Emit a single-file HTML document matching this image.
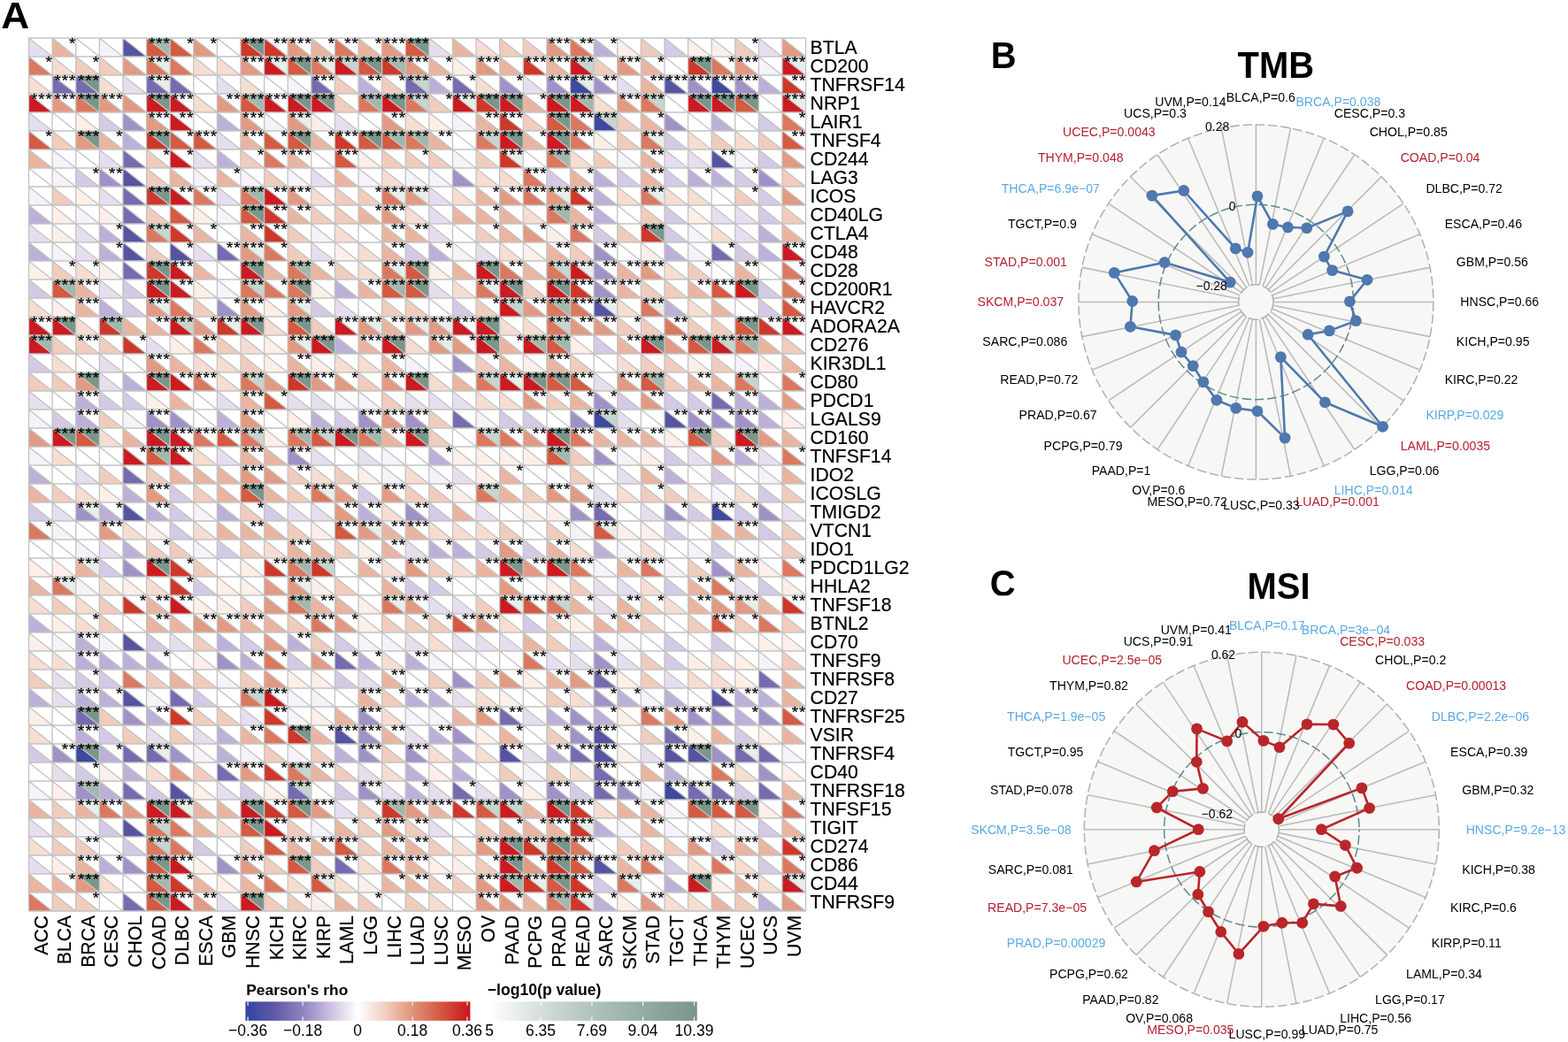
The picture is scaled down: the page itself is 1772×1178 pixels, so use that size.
<!DOCTYPE html>
<html lang="en"><head><meta charset="utf-8"><title>Figure</title>
<style>html,body{margin:0;padding:0;background:#fff}body{width:1772px;height:1178px;overflow:hidden}svg{display:block}text{white-space:pre}</style>
</head><body>
<svg width="1772" height="1178" viewBox="0 0 1772 1178" font-family='"Liberation Sans", sans-serif'>
<rect width="1772" height="1178" fill="#fff"/>
<g id="heat">
<path fill="#e6deee" d="M32.5 43V64H59.11ZM484.85 43V64H511.46ZM857.38 43V64H883.99ZM138.94 85V106H165.55ZM245.37 85V106H271.98ZM591.29 85V106H617.9ZM697.73 85V106H724.34ZM32.5 127V148H59.11ZM378.42 127V148H405.03ZM245.37 148V169H271.98ZM112.33 169V190H138.94ZM218.76 169V190H245.37ZM750.95 169V190H777.55ZM777.55 169V190H804.16ZM351.81 190V211H378.42ZM112.33 211V232H138.94ZM245.37 211V232H271.98ZM484.85 211V232H511.46ZM484.85 232V253H511.46ZM804.16 232V253H830.77ZM830.77 232V253H857.38ZM32.5 253V274H59.11ZM85.72 253V274H112.33ZM484.85 253V274H511.46ZM830.77 253V274H857.38ZM85.72 274V295H112.33ZM218.76 274V295H245.37ZM351.81 274V295H378.42ZM538.07 274V295H564.68ZM112.33 316V337H138.94ZM484.85 316V337H511.46ZM378.42 337V358H405.03ZM165.55 379V400H192.15ZM112.33 400V421H138.94ZM112.33 421V442H138.94ZM671.12 421V442H697.73ZM32.5 442V463H59.11ZM245.37 442V463H271.98ZM325.2 442V463H351.81ZM351.81 442V463H378.42ZM458.25 442V463H484.85ZM484.85 442V463H511.46ZM511.46 442V463H538.07ZM697.73 463V484H724.34ZM245.37 505V526H271.98ZM351.81 505V526H378.42ZM405.03 505V526H431.64ZM777.55 505V526H804.16ZM857.38 505V526H883.99ZM85.72 526V547H112.33ZM511.46 526V547H538.07ZM697.73 526V547H724.34ZM671.12 547V568H697.73ZM59.11 568V589H85.72ZM325.2 568V589H351.81ZM351.81 568V589H378.42ZM538.07 568V589H564.68ZM724.34 568V589H750.95ZM883.99 568V589H910.6ZM112.33 610V631H138.94ZM458.25 610V631H484.85ZM671.12 652V673H697.73ZM697.73 652V673H724.34ZM830.77 652V673H857.38ZM484.85 673V694H511.46ZM511.46 673V694H538.07ZM671.12 673V694H697.73ZM192.15 715V736H218.76ZM458.25 715V736H484.85ZM511.46 715V736H538.07ZM538.07 715V736H564.68ZM564.68 715V736H591.29ZM644.51 715V736H671.12ZM617.9 736V757H644.51ZM644.51 736V757H671.12ZM697.73 736V757H724.34ZM59.11 757V778H85.72ZM405.03 757V778H431.64ZM750.95 757V778H777.55ZM59.11 778V799H85.72ZM511.46 778V799H538.07ZM271.98 799V820H298.59ZM591.29 799V820H617.9ZM165.55 820V841H192.15ZM218.76 820V841H245.37ZM458.25 820V841H484.85ZM591.29 841V862H617.9ZM724.34 841V862H750.95ZM59.11 862V883H85.72ZM405.03 862V883H431.64ZM245.37 883V904H271.98ZM431.64 883V904H458.25ZM484.85 883V904H511.46ZM538.07 883V904H564.68ZM378.42 904V925H405.03ZM32.5 925V946H59.11ZM484.85 925V946H511.46ZM32.5 967V988H59.11ZM245.37 1009V1030H271.98Z"/>
<path fill="#e9b5a1" d="M59.11 43V64H85.72ZM351.81 43V64H378.42ZM405.03 43V64H431.64ZM511.46 43V64H538.07ZM484.85 64V85H511.46ZM564.68 64V85H591.29ZM617.9 64V85H644.51ZM724.34 64V85H750.95ZM724.34 85V106H750.95ZM591.29 106V127H617.9ZM538.07 127V148H564.68ZM724.34 127V148H750.95ZM112.33 148V169H138.94ZM271.98 148V169H298.59ZM351.81 148V169H378.42ZM484.85 148V169H511.46ZM591.29 148V169H617.9ZM32.5 169V190H59.11ZM325.2 169V190H351.81ZM724.34 169V190H750.95ZM192.15 190V211H218.76ZM245.37 190V211H271.98ZM378.42 190V211H405.03ZM644.51 190V211H671.12ZM724.34 190V211H750.95ZM538.07 211V232H564.68ZM325.2 232V253H351.81ZM405.03 232V253H431.64ZM511.46 232V253H538.07ZM538.07 232V253H564.68ZM564.68 232V253H591.29ZM644.51 232V253H671.12ZM218.76 253V274H245.37ZM271.98 253V274H298.59ZM431.64 253V274H458.25ZM458.25 253V274H484.85ZM564.68 253V274H591.29ZM883.99 253V274H910.6ZM431.64 274V295H458.25ZM617.9 274V295H644.51ZM218.76 295V316H245.37ZM298.59 295V316H325.2ZM351.81 295V316H378.42ZM511.46 295V316H538.07ZM591.29 295V316H617.9ZM697.73 295V316H724.34ZM830.77 295V316H857.38ZM85.72 316V337H112.33ZM405.03 316V337H431.64ZM697.73 316V337H724.34ZM777.55 316V337H804.16ZM85.72 337V358H112.33ZM804.16 337V358H830.77ZM138.94 358V379H165.55ZM165.55 358V379H192.15ZM431.64 358V379H458.25ZM405.03 379V400H431.64ZM564.68 379V400H591.29ZM697.73 379V400H724.34ZM857.38 379V400H883.99ZM192.15 400V421H218.76ZM325.2 400V421H351.81ZM431.64 400V421H458.25ZM564.68 400V421H591.29ZM617.9 400V421H644.51ZM883.99 400V421H910.6ZM511.46 421V442H538.07ZM777.55 421V442H804.16ZM804.16 421V442H830.77ZM192.15 442V463H218.76ZM271.98 442V463H298.59ZM644.51 442V463H671.12ZM138.94 484V505H165.55ZM431.64 484V505H458.25ZM671.12 484V505H697.73ZM697.73 484V505H724.34ZM724.34 484V505H750.95ZM883.99 484V505H910.6ZM271.98 505V526H298.59ZM298.59 505V526H325.2ZM192.15 526V547H218.76ZM218.76 526V547H245.37ZM245.37 526V547H271.98ZM564.68 526V547H591.29ZM724.34 526V547H750.95ZM883.99 526V547H910.6ZM32.5 547V568H59.11ZM245.37 547V568H271.98ZM298.59 547V568H325.2ZM564.68 547V568H591.29ZM511.46 568V589H538.07ZM245.37 589V610H271.98ZM271.98 589V610H298.59ZM298.59 589V610H325.2ZM431.64 589V610H458.25ZM458.25 589V610H484.85ZM804.16 589V610H830.77ZM830.77 589V610H857.38ZM325.2 610V631H351.81ZM351.81 610V631H378.42ZM431.64 610V631H458.25ZM617.9 610V631H644.51ZM85.72 631V652H112.33ZM405.03 631V652H431.64ZM538.07 631V652H564.68ZM697.73 631V652H724.34ZM830.77 631V652H857.38ZM32.5 652V673H59.11ZM431.64 652V673H458.25ZM777.55 652V673H804.16ZM165.55 673V694H192.15ZM351.81 673V694H378.42ZM378.42 673V694H405.03ZM644.51 673V694H671.12ZM697.73 673V694H724.34ZM777.55 673V694H804.16ZM857.38 673V694H883.99ZM165.55 694V715H192.15ZM192.15 694V715H218.76ZM271.98 694V715H298.59ZM298.59 694V715H325.2ZM671.12 694V715H697.73ZM697.73 694V715H724.34ZM591.29 715V736H617.9ZM192.15 757V778H218.76ZM431.64 757V778H458.25ZM617.9 757V778H644.51ZM883.99 757V778H910.6ZM405.03 778V799H431.64ZM883.99 778V799H910.6ZM378.42 799V820H405.03ZM511.46 799V820H538.07ZM271.98 820V841H298.59ZM351.81 820V841H378.42ZM431.64 820V841H458.25ZM564.68 820V841H591.29ZM804.16 820V841H830.77ZM883.99 820V841H910.6ZM351.81 862V883H378.42ZM724.34 862V883H750.95ZM883.99 883V904H910.6ZM32.5 904V925H59.11ZM85.72 904V925H112.33ZM218.76 904V925H245.37ZM245.37 904V925H271.98ZM484.85 904V925H511.46ZM591.29 904V925H617.9ZM697.73 904V925H724.34ZM724.34 904V925H750.95ZM218.76 925V946H245.37ZM378.42 925V946H405.03ZM564.68 925V946H591.29ZM591.29 925V946H617.9ZM617.9 925V946H644.51ZM724.34 925V946H750.95ZM883.99 925V946H910.6ZM325.2 946V967H351.81ZM351.81 946V967H378.42ZM431.64 946V967H458.25ZM458.25 946V967H484.85ZM830.77 946V967H857.38ZM857.38 946V967H883.99ZM85.72 967V988H112.33ZM458.25 967V988H484.85ZM697.73 967V988H724.34ZM32.5 988V1009H59.11ZM59.11 988V1009H85.72ZM218.76 988V1009H245.37ZM271.98 988V1009H298.59ZM431.64 988V1009H458.25ZM458.25 988V1009H484.85ZM830.77 988V1009H857.38ZM378.42 1009V1030H405.03ZM591.29 1009V1030H617.9ZM804.16 1009V1030H830.77Z"/>
<path fill="#f5f2f9" d="M112.33 43V64H138.94ZM857.38 64V85H883.99ZM325.2 85V106H351.81ZM298.59 127V148H325.2ZM511.46 127V148H538.07ZM59.11 169V190H85.72ZM511.46 169V190H538.07ZM697.73 169V190H724.34ZM830.77 169V190H857.38ZM59.11 190V211H85.72ZM218.76 190V211H245.37ZM271.98 190V211H298.59ZM325.2 190V211H351.81ZM405.03 190V211H431.64ZM458.25 190V211H484.85ZM484.85 190V211H511.46ZM32.5 211V232H59.11ZM85.72 232V253H112.33ZM245.37 232V253H271.98ZM351.81 253V274H378.42ZM777.55 253V274H804.16ZM59.11 274V295H85.72ZM511.46 274V295H538.07ZM777.55 274V295H804.16ZM245.37 316V337H271.98ZM458.25 400V421H484.85ZM830.77 400V421H857.38ZM378.42 442V463H405.03ZM405.03 442V463H431.64ZM32.5 463V484H59.11ZM138.94 463V484H165.55ZM538.07 463V484H564.68ZM32.5 505V526H59.11ZM431.64 505V526H458.25ZM697.73 505V526H724.34ZM431.64 526V547H458.25ZM484.85 526V547H511.46ZM857.38 526V547H883.99ZM804.16 547V568H830.77ZM218.76 568V589H245.37ZM59.11 589V610H85.72ZM644.51 589V610H671.12ZM85.72 610V631H112.33ZM218.76 610V631H245.37ZM697.73 610V631H724.34ZM777.55 610V631H804.16ZM671.12 631V652H697.73ZM750.95 631V652H777.55ZM85.72 652V673H112.33ZM59.11 715V736H85.72ZM112.33 715V736H138.94ZM405.03 715V736H431.64ZM431.64 715V736H458.25ZM697.73 715V736H724.34ZM484.85 736V757H511.46ZM857.38 736V757H883.99ZM245.37 757V778H271.98ZM165.55 778V799H192.15ZM325.2 778V799H351.81ZM351.81 778V799H378.42ZM724.34 778V799H750.95ZM325.2 799V820H351.81ZM458.25 799V820H484.85ZM484.85 799V820H511.46ZM218.76 841V862H245.37ZM271.98 841V862H298.59ZM325.2 841V862H351.81ZM883.99 841V862H910.6ZM591.29 862V883H617.9ZM32.5 883V904H59.11ZM724.34 883V904H750.95ZM750.95 904V925H777.55ZM85.72 925V946H112.33ZM351.81 925V946H378.42ZM697.73 925V946H724.34ZM750.95 925V946H777.55ZM830.77 925V946H857.38Z"/>
<path fill="#5654a1" d="M138.94 43V64H165.55ZM750.95 85V106H777.55ZM804.16 169V190H830.77ZM138.94 190V211H165.55ZM138.94 253V274H165.55ZM138.94 274V295H165.55ZM192.15 274V295H218.76ZM671.12 337V358H697.73ZM750.95 463V484H777.55ZM138.94 568V589H165.55ZM138.94 715V736H165.55ZM138.94 778V799H165.55ZM804.16 778V799H830.77ZM378.42 820V841H405.03ZM671.12 820V841H697.73ZM564.68 841V862H591.29ZM671.12 841V862H697.73ZM750.95 841V862H777.55ZM777.55 841V862H804.16ZM192.15 883V904H218.76ZM138.94 925V946H165.55ZM671.12 967V988H697.73Z"/>
<path fill="#d45a42" d="M165.55 43V64H192.15ZM192.15 43V64H218.76ZM458.25 43V64H484.85ZM325.2 64V85H351.81ZM405.03 64V85H431.64ZM271.98 106V127H298.59ZM830.77 106V127H857.38ZM617.9 127V148H644.51ZM32.5 148V169H59.11ZM192.15 148V169H218.76ZM218.76 148V169H245.37ZM298.59 148V169H325.2ZM325.2 148V169H351.81ZM405.03 148V169H431.64ZM431.64 148V169H458.25ZM883.99 148V169H910.6ZM378.42 169V190H405.03ZM192.15 232V253H218.76ZM271.98 232V253H298.59ZM458.25 295V316H484.85ZM59.11 316V337H85.72ZM431.64 316V337H458.25ZM458.25 316V337H484.85ZM804.16 316V337H830.77ZM883.99 337V358H910.6ZM325.2 358V379H351.81ZM830.77 358V379H857.38ZM617.9 379V400H644.51ZM777.55 379V400H804.16ZM617.9 421V442H644.51ZM644.51 421V442H671.12ZM724.34 421V442H750.95ZM298.59 442V463H325.2ZM85.72 484V505H112.33ZM245.37 484V505H271.98ZM351.81 484V505H378.42ZM777.55 484V505H804.16ZM165.55 505V526H192.15ZM617.9 505V526H644.51ZM271.98 547V568H298.59ZM378.42 589V610H405.03ZM671.12 589V610H697.73ZM591.29 673V694H617.9ZM511.46 694V715H538.07ZM804.16 694V715H830.77ZM883.99 799V820H910.6ZM325.2 904V925H351.81ZM538.07 904V925H564.68ZM777.55 904V925H804.16ZM804.16 904V925H830.77ZM830.77 904V925H857.38ZM271.98 925V946H298.59ZM298.59 946V967H325.2ZM378.42 946V967H405.03ZM617.9 946V967H644.51ZM165.55 967V988H192.15ZM325.2 967V988H351.81ZM644.51 967V988H671.12ZM165.55 988V1009H192.15ZM351.81 988V1009H378.42ZM617.9 988V1009H644.51ZM165.55 1009V1030H192.15Z"/>
<path fill="#a3b8ad" d="M165.55 43H192.15V64ZM431.64 64H458.25V85ZM271.98 106H298.59V127ZM405.03 106H431.64V127ZM644.51 106H671.12V127ZM431.64 148H458.25V169ZM458.25 148H484.85V169ZM617.9 169H644.51V190ZM271.98 211H298.59V232ZM617.9 232H644.51V253ZM325.2 295H351.81V316ZM59.11 316H85.72V337ZM431.64 316H458.25V337ZM617.9 337H644.51V358ZM112.33 358H138.94V379ZM32.5 379H59.11V400ZM591.29 379H617.9V400ZM617.9 379H644.51V400ZM830.77 379H857.38V400ZM724.34 421H750.95V442ZM325.2 484H351.81V505ZM405.03 484H431.64V505ZM165.55 505H192.15V526ZM617.9 505H644.51V526ZM325.2 631H351.81V652ZM325.2 673H351.81V694ZM85.72 883H112.33V904ZM431.64 904H458.25V925ZM165.55 988H192.15V1009ZM564.68 988H591.29V1009ZM617.9 1009H644.51V1030Z"/>
<path fill="#e29a83" d="M218.76 43V64H245.37ZM325.2 43V64H351.81ZM431.64 43V64H458.25ZM617.9 43V64H644.51ZM883.99 43V64H910.6ZM138.94 64V85H165.55ZM271.98 64V85H298.59ZM458.25 64V85H484.85ZM538.07 64V85H564.68ZM697.73 64V85H724.34ZM830.77 64V85H857.38ZM59.11 106V127H85.72ZM112.33 106V127H138.94ZM138.94 106V127H165.55ZM245.37 106V127H271.98ZM697.73 106V127H724.34ZM165.55 127V148H192.15ZM271.98 127V148H298.59ZM325.2 127V148H351.81ZM431.64 127V148H458.25ZM85.72 148V169H112.33ZM883.99 169V190H910.6ZM325.2 211V232H351.81ZM458.25 211V232H484.85ZM564.68 211V232H591.29ZM617.9 211V232H644.51ZM883.99 211V232H910.6ZM431.64 232V253H458.25ZM591.29 253V274H617.9ZM271.98 274V295H298.59ZM724.34 295V316H750.95ZM165.55 337V358H192.15ZM271.98 337V358H298.59ZM325.2 337V358H351.81ZM591.29 337V358H617.9ZM218.76 358V379H245.37ZM405.03 358V379H431.64ZM458.25 358V379H484.85ZM484.85 358V379H511.46ZM644.51 358V379H671.12ZM671.12 358V379H697.73ZM325.2 379V400H351.81ZM484.85 379V400H511.46ZM511.46 379V400H538.07ZM750.95 379V400H777.55ZM165.55 400V421H192.15ZM85.72 421V442H112.33ZM298.59 421V442H325.2ZM351.81 421V442H378.42ZM378.42 421V442H405.03ZM431.64 421V442H458.25ZM697.73 421V442H724.34ZM591.29 442V463H617.9ZM724.34 442V463H750.95ZM883.99 442V463H910.6ZM271.98 463V484H298.59ZM431.64 463V484H458.25ZM32.5 484V505H59.11ZM591.29 484V505H617.9ZM857.38 484V505H883.99ZM804.16 505V526H830.77ZM271.98 526V547H298.59ZM298.59 526V547H325.2ZM165.55 547V568H192.15ZM378.42 547V568H405.03ZM431.64 547V568H458.25ZM617.9 547V568H644.51ZM644.51 547V568H671.12ZM378.42 568V589H405.03ZM112.33 589V610H138.94ZM405.03 589V610H431.64ZM564.68 610V631H591.29ZM458.25 631V652H484.85ZM591.29 631V652H617.9ZM298.59 652V673H325.2ZM325.2 652V673H351.81ZM564.68 652V673H591.29ZM298.59 673V694H325.2ZM458.25 673V694H484.85ZM804.16 673V694H830.77ZM830.77 673V694H857.38ZM218.76 694V715H245.37ZM245.37 694V715H271.98ZM378.42 694V715H405.03ZM538.07 694V715H564.68ZM298.59 715V736H325.2ZM351.81 736V757H378.42ZM298.59 757V778H325.2ZM564.68 757V778H591.29ZM644.51 757V778H671.12ZM538.07 799V820H564.68ZM750.95 799V820H777.55ZM192.15 862V883H218.76ZM271.98 862V883H298.59ZM138.94 904V925H165.55ZM351.81 904V925H378.42ZM458.25 904V925H484.85ZM431.64 925V946H458.25ZM538.07 946V967H564.68ZM777.55 946V967H804.16ZM271.98 967V988H298.59ZM591.29 967V988H617.9ZM85.72 988V1009H112.33ZM538.07 988V1009H564.68ZM218.76 1009V1030H245.37ZM538.07 1009V1030H564.68ZM564.68 1009V1030H591.29ZM724.34 1009V1030H750.95ZM883.99 1009V1030H910.6Z"/>
<path fill="#ce382b" d="M271.98 43V64H298.59ZM298.59 43V64H325.2ZM431.64 64V85H458.25ZM591.29 64V85H617.9ZM777.55 64V85H804.16ZM883.99 85V106H910.6ZM538.07 106V127H564.68ZM564.68 127V148H591.29ZM165.55 148V169H192.15ZM378.42 148V169H405.03ZM564.68 169V190H591.29ZM165.55 211V232H192.15ZM644.51 211V232H671.12ZM298.59 232V253H325.2ZM192.15 253V274H218.76ZM298.59 253V274H325.2ZM724.34 253V274H750.95ZM165.55 295V316H192.15ZM644.51 316V337H671.12ZM112.33 358V379H138.94ZM245.37 358V379H271.98ZM857.38 358V379H883.99ZM138.94 379V400H165.55ZM325.2 421V442H351.81ZM192.15 631V652H218.76ZM298.59 631V652H325.2ZM351.81 631V652H378.42ZM192.15 652V673H218.76ZM138.94 673V694H165.55ZM883.99 673V694H910.6ZM192.15 799V820H218.76ZM298.59 799V820H325.2ZM325.2 820V841H351.81ZM298.59 862V883H325.2ZM298.59 904V925H325.2ZM431.64 904V925H458.25ZM511.46 904V925H538.07ZM644.51 904V925H671.12ZM644.51 925V946H671.12ZM591.29 946V967H617.9ZM883.99 946V967H910.6ZM617.9 967V988H644.51ZM192.15 988V1009H218.76ZM591.29 988V1009H617.9ZM644.51 988V1009H671.12ZM644.51 1009V1030H671.12Z"/>
<path fill="#7a968a" d="M271.98 43H298.59V64ZM458.25 43H484.85V64ZM325.2 64H351.81V85ZM405.03 64H431.64V85ZM777.55 64H804.16V85ZM85.72 85H112.33V106ZM85.72 106H112.33V127ZM165.55 106H192.15V127ZM325.2 106H351.81V127ZM351.81 106H378.42V127ZM431.64 106H458.25V127ZM538.07 106H564.68V127ZM564.68 106H591.29V127ZM617.9 106H644.51V127ZM777.55 106H804.16V127ZM804.16 106H830.77V127ZM830.77 106H857.38V127ZM617.9 127H644.51V148ZM85.72 148H112.33V169ZM165.55 148H192.15V169ZM325.2 148H351.81V169ZM405.03 148H431.64V169ZM564.68 148H591.29V169ZM617.9 148H644.51V169ZM165.55 211H192.15V232ZM271.98 232H298.59V253ZM724.34 253H750.95V274ZM165.55 295H192.15V316ZM271.98 295H298.59V316ZM458.25 295H484.85V316ZM538.07 295H564.68V316ZM165.55 316H192.15V337ZM325.2 316H351.81V337ZM458.25 316H484.85V337ZM564.68 316H591.29V337ZM617.9 316H644.51V337ZM830.77 316H857.38V337ZM59.11 358H85.72V379ZM271.98 358H298.59V379ZM325.2 358H351.81V379ZM538.07 358H564.68V379ZM830.77 358H857.38V379ZM351.81 379H378.42V400ZM431.64 379H458.25V400ZM538.07 379H564.68V400ZM724.34 379H750.95V400ZM777.55 379H804.16V400ZM85.72 421H112.33V442ZM165.55 421H192.15V442ZM325.2 421H351.81V442ZM458.25 421H484.85V442ZM591.29 421H617.9V442ZM617.9 421H644.51V442ZM59.11 484H85.72V505ZM85.72 484H112.33V505ZM165.55 484H192.15V505ZM378.42 484H405.03V505ZM458.25 484H484.85V505ZM617.9 484H644.51V505ZM777.55 484H804.16V505ZM830.77 484H857.38V505ZM271.98 547H298.59V568ZM165.55 631H192.15V652ZM564.68 631H591.29V652ZM617.9 631H644.51V652ZM85.72 799H112.33V820ZM325.2 820H351.81V841ZM85.72 841H112.33V862ZM777.55 841H804.16V862ZM165.55 904H192.15V925ZM271.98 904H298.59V925ZM325.2 904H351.81V925ZM617.9 904H644.51V925ZM777.55 904H804.16V925ZM830.77 904H857.38V925ZM271.98 925H298.59V946ZM564.68 946H591.29V967ZM617.9 946H644.51V967ZM165.55 967H192.15V988ZM325.2 967H351.81V988ZM564.68 967H591.29V988ZM617.9 967H644.51V988ZM85.72 988H112.33V1009ZM617.9 988H644.51V1009ZM777.55 988H804.16V1009ZM165.55 1009H192.15V1030ZM271.98 1009H298.59V1030Z"/>
<path fill="#db7960" d="M378.42 43V64H405.03ZM644.51 43V64H671.12ZM32.5 64V85H59.11ZM165.55 64V85H192.15ZM192.15 64V85H218.76ZM351.81 64V85H378.42ZM804.16 64V85H830.77ZM85.72 106V127H112.33ZM405.03 106V127H431.64ZM458.25 106V127H484.85ZM724.34 106V127H750.95ZM644.51 127V148H671.12ZM883.99 127V148H910.6ZM458.25 148V169H484.85ZM538.07 148V169H564.68ZM644.51 148V169H671.12ZM724.34 148V169H750.95ZM298.59 169V190H325.2ZM617.9 169V190H644.51ZM591.29 190V211H617.9ZM218.76 211V232H245.37ZM271.98 211V232H298.59ZM431.64 211V232H458.25ZM591.29 211V232H617.9ZM724.34 211V232H750.95ZM617.9 232V253H644.51ZM165.55 253V274H192.15ZM644.51 253V274H671.12ZM298.59 274V295H325.2ZM325.2 295V316H351.81ZM431.64 295V316H458.25ZM564.68 295V316H591.29ZM617.9 295V316H644.51ZM883.99 295V316H910.6ZM271.98 316V337H298.59ZM298.59 316V337H325.2ZM325.2 316V337H351.81ZM538.07 316V337H564.68ZM883.99 316V337H910.6ZM192.15 337V358H218.76ZM617.9 337V358H644.51ZM644.51 337V358H671.12ZM724.34 337V358H750.95ZM617.9 358V379H644.51ZM750.95 358V379H777.55ZM218.76 379V400H245.37ZM830.77 379V400H857.38ZM218.76 421V442H245.37ZM271.98 421V442H298.59ZM538.07 421V442H564.68ZM830.77 421V442H857.38ZM883.99 421V442H910.6ZM218.76 484V505H245.37ZM271.98 484V505H298.59ZM325.2 484V505H351.81ZM405.03 484V505H431.64ZM538.07 484V505H564.68ZM564.68 484V505H591.29ZM644.51 484V505H671.12ZM883.99 505V526H910.6ZM351.81 547V568H378.42ZM538.07 547V568H564.68ZM32.5 589V610H59.11ZM325.2 631V652H351.81ZM644.51 631V652H671.12ZM724.34 631V652H750.95ZM883.99 631V652H910.6ZM59.11 652V673H85.72ZM804.16 652V673H830.77ZM325.2 673V694H351.81ZM431.64 673V694H458.25ZM617.9 673V694H644.51ZM351.81 694V715H378.42ZM857.38 694V715H883.99ZM298.59 736V757H325.2ZM591.29 736V757H617.9ZM138.94 757V778H165.55ZM271.98 778V799H298.59ZM724.34 799V820H750.95ZM298.59 820V841H325.2ZM325.2 862V883H351.81ZM804.16 862V883H830.77ZM112.33 904V925H138.94ZM883.99 904V925H910.6ZM165.55 925V946H192.15ZM192.15 925V946H218.76ZM165.55 946V967H192.15ZM192.15 946V967H218.76ZM644.51 946V967H671.12ZM431.64 967V988H458.25ZM724.34 967V988H750.95ZM804.16 967V988H830.77ZM883.99 967V988H910.6ZM298.59 988V1009H325.2ZM697.73 988V1009H724.34ZM32.5 1009V1030H59.11ZM617.9 1009V1030H644.51Z"/>
<path fill="#f6ddd1" d="M538.07 43V64H564.68ZM59.11 64V85H85.72ZM218.76 64V85H245.37ZM245.37 64V85H271.98ZM32.5 85V106H59.11ZM112.33 85V106H138.94ZM271.98 85V106H298.59ZM538.07 85V106H564.68ZM218.76 106V127H245.37ZM671.12 106V127H697.73ZM458.25 127V148H484.85ZM777.55 148V169H804.16ZM830.77 148V169H857.38ZM644.51 169V190H671.12ZM431.64 190V211H458.25ZM538.07 190V211H564.68ZM564.68 190V211H591.29ZM351.81 211V232H378.42ZM511.46 211V232H538.07ZM697.73 211V232H724.34ZM750.95 211V232H777.55ZM777.55 211V232H804.16ZM458.25 232V253H484.85ZM591.29 232V253H617.9ZM378.42 253V274H405.03ZM804.16 253V274H830.77ZM405.03 274V295H431.64ZM564.68 274V295H591.29ZM85.72 295V316H112.33ZM405.03 295V316H431.64ZM750.95 295V316H777.55ZM511.46 316V337H538.07ZM32.5 337V358H59.11ZM697.73 337V358H724.34ZM777.55 337V358H804.16ZM85.72 358V379H112.33ZM298.59 358V379H325.2ZM564.68 358V379H591.29ZM591.29 358V379H617.9ZM271.98 379V400H298.59ZM458.25 379V400H484.85ZM59.11 400V421H85.72ZM218.76 400V421H245.37ZM245.37 400V421H271.98ZM378.42 400V421H405.03ZM405.03 400V421H431.64ZM697.73 400V421H724.34ZM245.37 421V442H271.98ZM484.85 421V442H511.46ZM538.07 442V463H564.68ZM564.68 442V463H591.29ZM112.33 484V505H138.94ZM59.11 505V526H85.72ZM218.76 505V526H245.37ZM351.81 526V547H378.42ZM458.25 526V547H484.85ZM85.72 547V568H112.33ZM697.73 547V568H724.34ZM777.55 547V568H804.16ZM830.77 547V568H857.38ZM431.64 568V589H458.25ZM138.94 589V610H165.55ZM218.76 589V610H245.37ZM484.85 589V610H511.46ZM511.46 589V610H538.07ZM538.07 589V610H564.68ZM298.59 610V631H325.2ZM644.51 610V631H671.12ZM724.34 610V631H750.95ZM431.64 631V652H458.25ZM511.46 631V652H538.07ZM112.33 652V673H138.94ZM165.55 652V673H192.15ZM724.34 652V673H750.95ZM32.5 673V694H59.11ZM85.72 673V694H112.33ZM750.95 673V694H777.55ZM85.72 694V715H112.33ZM564.68 694V715H591.29ZM484.85 715V736H511.46ZM32.5 736V757H59.11ZM59.11 736V757H85.72ZM431.64 736V757H458.25ZM804.16 736V757H830.77ZM777.55 757V778H804.16ZM804.16 757V778H830.77ZM538.07 778V799H564.68ZM644.51 778V799H671.12ZM431.64 799V820H458.25ZM32.5 820V841H59.11ZM484.85 841V862H511.46ZM538.07 841V862H564.68ZM165.55 862V883H192.15ZM431.64 862V883H458.25ZM644.51 862V883H671.12ZM830.77 862V883H857.38ZM671.12 904V925H697.73ZM245.37 925V946H271.98ZM804.16 925V946H830.77ZM32.5 946V967H59.11ZM511.46 946V967H538.07ZM405.03 967V988H431.64ZM777.55 967V988H804.16ZM830.77 967V988H857.38ZM112.33 988V1009H138.94ZM325.2 988V1009H351.81ZM378.42 988V1009H405.03ZM857.38 988V1009H883.99ZM484.85 1009V1030H511.46ZM750.95 1009V1030H777.55ZM777.55 1009V1030H804.16Z"/>
<path fill="#f0ccbd" d="M564.68 43V64H591.29ZM591.29 43V64H617.9ZM724.34 43V64H750.95ZM830.77 43V64H857.38ZM85.72 64V85H112.33ZM112.33 64V85H138.94ZM671.12 64V85H697.73ZM378.42 85V106H405.03ZM431.64 85V106H458.25ZM378.42 106V127H405.03ZM484.85 106V127H511.46ZM591.29 127V148H617.9ZM697.73 127V148H724.34ZM59.11 148V169H85.72ZM697.73 148V169H724.34ZM804.16 148V169H830.77ZM857.38 148V169H883.99ZM165.55 169V190H192.15ZM271.98 169V190H298.59ZM431.64 169V190H458.25ZM458.25 169V190H484.85ZM484.85 169V190H511.46ZM538.07 169V190H564.68ZM671.12 169V190H697.73ZM165.55 190V211H192.15ZM298.59 190V211H325.2ZM883.99 190V211H910.6ZM59.11 211V232H85.72ZM378.42 211V232H405.03ZM405.03 211V232H431.64ZM830.77 211V232H857.38ZM165.55 232V253H192.15ZM351.81 232V253H378.42ZM378.42 232V253H405.03ZM724.34 232V253H750.95ZM883.99 232V253H910.6ZM325.2 253V274H351.81ZM538.07 253V274H564.68ZM697.73 253V274H724.34ZM165.55 274V295H192.15ZM325.2 274V295H351.81ZM644.51 274V295H671.12ZM59.11 295V316H85.72ZM378.42 295V316H405.03ZM777.55 295V316H804.16ZM591.29 316V337H617.9ZM724.34 316V337H750.95ZM750.95 316V337H777.55ZM218.76 337V358H245.37ZM431.64 337V358H458.25ZM458.25 337V358H484.85ZM538.07 337V358H564.68ZM351.81 358V379H378.42ZM697.73 358V379H724.34ZM724.34 358V379H750.95ZM777.55 358V379H804.16ZM804.16 358V379H830.77ZM59.11 379V400H85.72ZM85.72 379V400H112.33ZM112.33 379V400H138.94ZM245.37 379V400H271.98ZM883.99 379V400H910.6ZM271.98 400V421H298.59ZM538.07 400V421H564.68ZM644.51 400V421H671.12ZM724.34 400V421H750.95ZM750.95 400V421H777.55ZM804.16 400V421H830.77ZM32.5 421V442H59.11ZM59.11 421V442H85.72ZM405.03 421V442H431.64ZM750.95 421V442H777.55ZM431.64 442V463H458.25ZM617.9 442V463H644.51ZM112.33 463V484H138.94ZM484.85 463V484H511.46ZM484.85 484V505H511.46ZM804.16 484V505H830.77ZM644.51 505V526H671.12ZM112.33 526V547H138.94ZM165.55 526V547H192.15ZM325.2 526V547H351.81ZM378.42 526V547H405.03ZM644.51 526V547H671.12ZM59.11 547V568H85.72ZM218.76 547V568H245.37ZM325.2 547V568H351.81ZM458.25 547V568H484.85ZM484.85 547V568H511.46ZM591.29 547V568H617.9ZM724.34 547V568H750.95ZM750.95 547V568H777.55ZM883.99 547V568H910.6ZM271.98 568V589H298.59ZM325.2 589V610H351.81ZM564.68 589V610H591.29ZM617.9 589V610H644.51ZM883.99 589V610H910.6ZM165.55 610V631H192.15ZM192.15 610V631H218.76ZM271.98 610V631H298.59ZM378.42 610V631H405.03ZM883.99 610V631H910.6ZM218.76 631V652H245.37ZM484.85 631V652H511.46ZM777.55 631V652H804.16ZM378.42 652V673H405.03ZM644.51 652V673H671.12ZM59.11 673V694H85.72ZM112.33 673V694H138.94ZM271.98 673V694H298.59ZM538.07 673V694H564.68ZM724.34 673V694H750.95ZM112.33 694V715H138.94ZM325.2 694V715H351.81ZM431.64 694V715H458.25ZM458.25 694V715H484.85ZM484.85 694V715H511.46ZM617.9 694V715H644.51ZM724.34 694V715H750.95ZM777.55 694V715H804.16ZM830.77 694V715H857.38ZM883.99 694V715H910.6ZM218.76 715V736H245.37ZM351.81 715V736H378.42ZM617.9 715V736H644.51ZM724.34 736V757H750.95ZM883.99 736V757H910.6ZM32.5 757V778H59.11ZM165.55 757V778H192.15ZM218.76 757V778H245.37ZM271.98 757V778H298.59ZM484.85 757V778H511.46ZM538.07 757V778H564.68ZM724.34 757V778H750.95ZM431.64 778V799H458.25ZM617.9 778V799H644.51ZM112.33 799V820H138.94ZM218.76 799V820H245.37ZM245.37 799V820H271.98ZM138.94 820V841H165.55ZM192.15 820V841H218.76ZM617.9 820V841H644.51ZM724.34 820V841H750.95ZM298.59 841V862H325.2ZM351.81 841V862H378.42ZM431.64 841V862H458.25ZM218.76 862V883H245.37ZM378.42 862V883H405.03ZM564.68 862V883H591.29ZM617.9 862V883H644.51ZM59.11 904V925H85.72ZM405.03 904V925H431.64ZM59.11 925V946H85.72ZM325.2 925V946H351.81ZM405.03 925V946H431.64ZM458.25 925V946H484.85ZM538.07 925V946H564.68ZM59.11 946V967H85.72ZM85.72 946V967H112.33ZM271.98 946V967H298.59ZM405.03 946V967H431.64ZM484.85 946V967H511.46ZM697.73 946V967H724.34ZM724.34 946V967H750.95ZM750.95 946V967H777.55ZM298.59 967V988H325.2ZM351.81 967V988H378.42ZM538.07 967V988H564.68ZM484.85 988V1009H511.46ZM511.46 988V1009H538.07ZM59.11 1009V1030H85.72ZM85.72 1009V1030H112.33ZM298.59 1009V1030H325.2ZM325.2 1009V1030H351.81ZM405.03 1009V1030H431.64ZM458.25 1009V1030H484.85ZM830.77 1009V1030H857.38Z"/>
<path fill="#bdb0d8" d="M671.12 43V64H697.73ZM405.03 85V106H431.64ZM484.85 85V106H511.46ZM857.38 85V106H883.99ZM245.37 127V148H271.98ZM804.16 127V148H830.77ZM138.94 148V169H165.55ZM245.37 169V190H271.98ZM671.12 190V211H697.73ZM777.55 190V211H804.16ZM804.16 190V211H830.77ZM671.12 211V232H697.73ZM32.5 232V253H59.11ZM671.12 232V253H697.73ZM112.33 253V274H138.94ZM857.38 253V274H883.99ZM32.5 274V295H59.11ZM112.33 274V295H138.94ZM484.85 274V295H511.46ZM750.95 274V295H777.55ZM857.38 274V295H883.99ZM378.42 316V337H405.03ZM112.33 337V358H138.94ZM750.95 337V358H777.55ZM378.42 379V400H405.03ZM138.94 421V442H165.55ZM85.72 442V463H112.33ZM830.77 442V463H857.38ZM857.38 442V463H883.99ZM85.72 463V484H112.33ZM245.37 463V484H271.98ZM351.81 463V484H378.42ZM857.38 463V484H883.99ZM484.85 505V526H511.46ZM830.77 505V526H857.38ZM32.5 526V547H59.11ZM750.95 526V547H777.55ZM138.94 547V568H165.55ZM112.33 568V589H138.94ZM165.55 568V589H192.15ZM245.37 568V589H271.98ZM405.03 568V589H431.64ZM138.94 610V631H165.55ZM484.85 610V631H511.46ZM511.46 610V631H538.07ZM671.12 610V631H697.73ZM32.5 694V715H59.11ZM85.72 715V736H112.33ZM245.37 715V736H271.98ZM325.2 715V736H351.81ZM671.12 715V736H697.73ZM85.72 736V757H112.33ZM112.33 736V757H138.94ZM138.94 736V757H165.55ZM165.55 736V757H192.15ZM271.98 736V757H298.59ZM405.03 736V757H431.64ZM458.25 736V757H484.85ZM32.5 778V799H59.11ZM85.72 778V799H112.33ZM112.33 778V799H138.94ZM458.25 778V799H484.85ZM484.85 778V799H511.46ZM697.73 778V799H724.34ZM750.95 778V799H777.55ZM830.77 778V799H857.38ZM857.38 778V799H883.99ZM165.55 799V820H192.15ZM617.9 799V820H644.51ZM671.12 799V820H697.73ZM830.77 799V820H857.38ZM85.72 820V841H112.33ZM245.37 820V841H271.98ZM484.85 820V841H511.46ZM112.33 841V862H138.94ZM245.37 841V862H271.98ZM378.42 841V862H405.03ZM511.46 841V862H538.07ZM617.9 841V862H644.51ZM138.94 862V883H165.55ZM458.25 862V883H484.85ZM511.46 862V883H538.07ZM750.95 862V883H777.55ZM112.33 883V904H138.94ZM458.25 883V904H484.85ZM671.12 925V946H697.73ZM112.33 967V988H138.94ZM750.95 988V1009H777.55ZM671.12 1009V1030H697.73ZM857.38 1009V1030H883.99Z"/>
<path fill="#fcefe8" d="M697.73 43V64H724.34ZM777.55 43V64H804.16ZM804.16 43V64H830.77ZM511.46 64V85H538.07ZM85.72 127V148H112.33ZM351.81 127V148H378.42ZM484.85 127V148H511.46ZM671.12 148V169H697.73ZM405.03 169V190H431.64ZM85.72 211V232H112.33ZM59.11 232V253H85.72ZM112.33 232V253H138.94ZM218.76 232V253H245.37ZM777.55 232V253H804.16ZM59.11 253V274H85.72ZM617.9 253V274H644.51ZM378.42 274V295H405.03ZM591.29 274V295H617.9ZM724.34 274V295H750.95ZM32.5 295V316H59.11ZM112.33 295V316H138.94ZM484.85 295V316H511.46ZM218.76 316V337H245.37ZM351.81 316V337H378.42ZM59.11 337V358H85.72ZM298.59 337V358H325.2ZM192.15 379V400H218.76ZM298.59 379V400H325.2ZM644.51 379V400H671.12ZM298.59 400V421H325.2ZM351.81 400V421H378.42ZM591.29 400V421H617.9ZM777.55 400V421H804.16ZM857.38 400V421H883.99ZM165.55 442V463H192.15ZM325.2 463V484H351.81ZM883.99 463V484H910.6ZM298.59 484V505H325.2ZM750.95 484V505H777.55ZM511.46 505V526H538.07ZM538.07 505V526H564.68ZM564.68 505V526H591.29ZM591.29 505V526H617.9ZM724.34 505V526H750.95ZM405.03 526V547H431.64ZM538.07 526V547H564.68ZM112.33 547V568H138.94ZM511.46 547V568H538.07ZM591.29 568V589H617.9ZM617.9 568V589H644.51ZM165.55 589V610H192.15ZM351.81 589V610H378.42ZM697.73 589V610H724.34ZM724.34 589V610H750.95ZM405.03 610V631H431.64ZM32.5 631V652H59.11ZM59.11 631V652H85.72ZM271.98 631V652H298.59ZM857.38 631V652H883.99ZM138.94 652V673H165.55ZM245.37 652V673H271.98ZM271.98 652V673H298.59ZM351.81 652V673H378.42ZM617.9 652V673H644.51ZM883.99 652V673H910.6ZM218.76 673V694H245.37ZM245.37 673V694H271.98ZM405.03 673V694H431.64ZM59.11 694V715H85.72ZM405.03 694V715H431.64ZM644.51 694V715H671.12ZM32.5 715V736H59.11ZM857.38 715V736H883.99ZM883.99 715V736H910.6ZM218.76 736V757H245.37ZM777.55 736V757H804.16ZM830.77 736V757H857.38ZM325.2 757V778H351.81ZM351.81 757V778H378.42ZM591.29 757V778H617.9ZM697.73 757V778H724.34ZM830.77 757V778H857.38ZM564.68 778V799H591.29ZM32.5 799V820H59.11ZM351.81 799V820H378.42ZM697.73 799V820H724.34ZM538.07 820V841H564.68ZM777.55 820V841H804.16ZM857.38 820V841H883.99ZM697.73 841V862H724.34ZM112.33 862V883H138.94ZM484.85 862V883H511.46ZM883.99 862V883H910.6ZM59.11 883V904H85.72ZM218.76 883V904H245.37ZM298.59 883V904H325.2ZM591.29 883V904H617.9ZM857.38 904V925H883.99ZM59.11 967V988H85.72ZM218.76 967V988H245.37ZM484.85 967V988H511.46ZM511.46 967V988H538.07ZM245.37 988V1009H271.98ZM405.03 988V1009H431.64ZM804.16 988V1009H830.77ZM351.81 1009V1030H378.42ZM697.73 1009V1030H724.34Z"/>
<path fill="#d4cae5" d="M750.95 43V64H777.55ZM112.33 127V148H138.94ZM857.38 127V148H883.99ZM750.95 148V169H777.55ZM857.38 169V190H883.99ZM85.72 190V211H112.33ZM617.9 190V211H644.51ZM697.73 190V211H724.34ZM750.95 190V211H777.55ZM830.77 190V211H857.38ZM857.38 211V232H883.99ZM750.95 232V253H777.55ZM857.38 232V253H883.99ZM671.12 253V274H697.73ZM750.95 253V274H777.55ZM458.25 274V295H484.85ZM830.77 274V295H857.38ZM32.5 316V337H59.11ZM138.94 316V337H165.55ZM857.38 316V337H883.99ZM138.94 337V358H165.55ZM351.81 337V358H378.42ZM511.46 337V358H538.07ZM857.38 337V358H883.99ZM671.12 379V400H697.73ZM32.5 400V421H59.11ZM112.33 442V463H138.94ZM138.94 442V463H165.55ZM697.73 442V463H724.34ZM750.95 442V463H777.55ZM777.55 442V463H804.16ZM59.11 463V484H85.72ZM378.42 463V484H405.03ZM564.68 463V484H591.29ZM591.29 463V484H617.9ZM750.95 505V526H777.55ZM804.16 526V547H830.77ZM192.15 547V568H218.76ZM405.03 547V568H431.64ZM857.38 547V568H883.99ZM32.5 568V589H59.11ZM192.15 568V589H218.76ZM298.59 568V589H325.2ZM484.85 568V589H511.46ZM777.55 568V589H804.16ZM830.77 568V589H857.38ZM192.15 589V610H218.76ZM750.95 589V610H777.55ZM857.38 589V610H883.99ZM245.37 610V631H271.98ZM538.07 610V631H564.68ZM591.29 610V631H617.9ZM804.16 610V631H830.77ZM112.33 631V652H138.94ZM218.76 652V673H245.37ZM458.25 652V673H484.85ZM484.85 652V673H511.46ZM750.95 652V673H777.55ZM857.38 652V673H883.99ZM591.29 694V715H617.9ZM165.55 715V736H192.15ZM271.98 715V736H298.59ZM378.42 715V736H405.03ZM750.95 715V736H777.55ZM804.16 715V736H830.77ZM325.2 736V757H351.81ZM750.95 736V757H777.55ZM85.72 757V778H112.33ZM112.33 757V778H138.94ZM378.42 757V778H405.03ZM218.76 778V799H245.37ZM112.33 820V841H138.94ZM830.77 820V841H857.38ZM32.5 841V862H59.11ZM85.72 862V883H112.33ZM165.55 883V904H192.15ZM271.98 883V904H298.59ZM378.42 883V904H405.03ZM644.51 883V904H671.12ZM830.77 883V904H857.38ZM112.33 925V946H138.94ZM857.38 925V946H883.99ZM138.94 946V967H165.55ZM218.76 946V967H245.37ZM804.16 946V967H830.77ZM750.95 967V988H777.55ZM857.38 967V988H883.99ZM671.12 988V1009H697.73Z"/>
<path fill="#e8eeea" d="M165.55 64H192.15V85ZM298.59 64H325.2V85ZM351.81 64H378.42V85ZM883.99 64H910.6V85ZM165.55 85H192.15V106ZM644.51 85H671.12V106ZM511.46 106H538.07V127ZM883.99 106H910.6V127ZM325.2 127H351.81V148ZM724.34 148H750.95V169ZM564.68 169H591.29V190ZM431.64 211H458.25V232ZM458.25 211H484.85V232ZM617.9 211H644.51V232ZM724.34 211H750.95V232ZM271.98 274H298.59V295ZM431.64 295H458.25V316ZM644.51 295H671.12V316ZM538.07 316H564.68V337ZM165.55 337H192.15V358ZM325.2 337H351.81V358ZM671.12 337H697.73V358ZM724.34 337H750.95V358ZM245.37 358H271.98V379ZM405.03 358H431.64V379ZM458.25 358H484.85V379ZM484.85 358H511.46V379ZM325.2 379H351.81V400ZM484.85 379H511.46V400ZM564.68 421H591.29V442ZM351.81 547H378.42V568ZM85.72 568H112.33V589ZM405.03 589H431.64V610ZM671.12 589H697.73V610ZM85.72 631H112.33V652ZM59.11 652H85.72V673ZM325.2 652H351.81V673ZM431.64 673H458.25V694ZM564.68 673H591.29V694ZM830.77 673H857.38V694ZM165.55 841H192.15V862ZM830.77 841H857.38V862ZM777.55 883H804.16V904ZM85.72 904H112.33V925ZM192.15 904H218.76V925ZM644.51 925H671.12V946ZM591.29 946H617.9V967ZM351.81 988H378.42V1009ZM591.29 988H617.9V1009ZM697.73 988H724.34V1009ZM883.99 988H910.6V1009ZM644.51 1009H671.12V1030Z"/>
<path fill="#cb1b21" d="M298.59 64V85H325.2ZM378.42 64V85H405.03ZM644.51 64V85H671.12ZM883.99 64V85H910.6ZM32.5 106V127H59.11ZM165.55 106V127H192.15ZM192.15 106V127H218.76ZM298.59 106V127H325.2ZM325.2 106V127H351.81ZM351.81 106V127H378.42ZM431.64 106V127H458.25ZM511.46 106V127H538.07ZM564.68 106V127H591.29ZM617.9 106V127H644.51ZM644.51 106V127H671.12ZM777.55 106V127H804.16ZM804.16 106V127H830.77ZM883.99 106V127H910.6ZM192.15 127V148H218.76ZM564.68 148V169H591.29ZM617.9 148V169H644.51ZM192.15 169V190H218.76ZM192.15 211V232H218.76ZM298.59 211V232H325.2ZM883.99 274V295H910.6ZM192.15 295V316H218.76ZM271.98 295V316H298.59ZM538.07 295V316H564.68ZM644.51 295V316H671.12ZM165.55 316V337H192.15ZM192.15 316V337H218.76ZM564.68 316V337H591.29ZM617.9 316V337H644.51ZM830.77 316V337H857.38ZM564.68 337V358H591.29ZM32.5 358V379H59.11ZM59.11 358V379H85.72ZM192.15 358V379H218.76ZM271.98 358V379H298.59ZM378.42 358V379H405.03ZM511.46 358V379H538.07ZM538.07 358V379H564.68ZM883.99 358V379H910.6ZM32.5 379V400H59.11ZM351.81 379V400H378.42ZM431.64 379V400H458.25ZM538.07 379V400H564.68ZM591.29 379V400H617.9ZM724.34 379V400H750.95ZM804.16 379V400H830.77ZM165.55 421V442H192.15ZM192.15 421V442H218.76ZM458.25 421V442H484.85ZM564.68 421V442H591.29ZM591.29 421V442H617.9ZM59.11 484V505H85.72ZM165.55 484V505H192.15ZM192.15 484V505H218.76ZM378.42 484V505H405.03ZM458.25 484V505H484.85ZM617.9 484V505H644.51ZM830.77 484V505H857.38ZM138.94 505V526H165.55ZM192.15 505V526H218.76ZM165.55 631V652H192.15ZM564.68 631V652H591.29ZM617.9 631V652H644.51ZM192.15 673V694H218.76ZM564.68 673V694H591.29ZM298.59 778V799H325.2ZM165.55 904V925H192.15ZM192.15 904V925H218.76ZM271.98 904V925H298.59ZM564.68 904V925H591.29ZM617.9 904V925H644.51ZM298.59 925V946H325.2ZM564.68 946V967H591.29ZM192.15 967V988H218.76ZM564.68 967V988H591.29ZM564.68 988V1009H591.29ZM777.55 988V1009H804.16ZM883.99 988V1009H910.6ZM192.15 1009V1030H218.76ZM271.98 1009V1030H298.59Z"/>
<path fill="#c6d5cd" d="M378.42 64H405.03V85ZM644.51 64H671.12V85ZM458.25 85H484.85V106ZM458.25 106H484.85V127ZM724.34 106H750.95V127ZM671.12 127H697.73V148ZM538.07 148H564.68V169ZM165.55 253H192.15V274ZM617.9 295H644.51V316ZM271.98 316H298.59V337ZM564.68 337H591.29V358ZM192.15 358H218.76V379ZM617.9 358H644.51V379ZM804.16 379H830.77V400ZM271.98 421H298.59V442ZM538.07 421H564.68V442ZM830.77 421H857.38V442ZM671.12 463H697.73V484ZM271.98 484H298.59V505ZM351.81 484H378.42V505ZM538.07 484H564.68V505ZM538.07 547H564.68V568ZM351.81 631H378.42V652ZM617.9 673H644.51V694ZM271.98 778H298.59V799ZM325.2 862H351.81V883ZM325.2 883H351.81V904ZM538.07 904H564.68V925ZM564.68 904H591.29V925ZM165.55 925H192.15V946ZM165.55 946H192.15V967Z"/>
<path fill="#766bb0" d="M59.11 85V106H85.72ZM85.72 85V106H112.33ZM165.55 85V106H192.15ZM192.15 85V106H218.76ZM351.81 85V106H378.42ZM458.25 85V106H484.85ZM511.46 85V106H538.07ZM138.94 169V190H165.55ZM138.94 211V232H165.55ZM138.94 232V253H165.55ZM245.37 274V295H271.98ZM804.16 274V295H830.77ZM138.94 295V316H165.55ZM804.16 442V463H830.77ZM511.46 463V484H538.07ZM138.94 526V547H165.55ZM671.12 568V589H697.73ZM378.42 736V757H405.03ZM671.12 757V778H697.73ZM857.38 757V778H883.99ZM192.15 778V799H218.76ZM85.72 799V820H112.33ZM564.68 799V820H591.29ZM750.95 820V841H777.55ZM138.94 841V862H165.55ZM165.55 841V862H192.15ZM644.51 841V862H671.12ZM830.77 841V862H857.38ZM857.38 841V862H883.99ZM245.37 862V883H271.98ZM671.12 862V883H697.73ZM138.94 883V904H165.55ZM325.2 883V904H351.81ZM511.46 883V904H538.07ZM671.12 883V904H697.73ZM777.55 883V904H804.16ZM804.16 883V904H830.77ZM857.38 883V904H883.99ZM378.42 967V988H405.03ZM138.94 1009V1030H165.55Z"/>
<path fill="#a092c7" d="M564.68 85V106H591.29ZM617.9 85V106H644.51ZM671.12 85V106H697.73ZM777.55 85V106H804.16ZM830.77 85V106H857.38ZM138.94 127V148H165.55ZM750.95 127V148H777.55ZM112.33 190V211H138.94ZM511.46 190V211H538.07ZM857.38 190V211H883.99ZM671.12 274V295H697.73ZM671.12 295V316H697.73ZM671.12 316V337H697.73ZM245.37 337V358H271.98ZM511.46 400V421H538.07ZM671.12 442V463H697.73ZM165.55 463V484H192.15ZM192.15 463V484H218.76ZM405.03 463V484H431.64ZM458.25 463V484H484.85ZM644.51 463V484H671.12ZM777.55 463V484H804.16ZM804.16 463V484H830.77ZM830.77 463V484H857.38ZM325.2 505V526H351.81ZM671.12 505V526H697.73ZM85.72 568V589H112.33ZM458.25 568V589H484.85ZM644.51 568V589H671.12ZM750.95 568V589H777.55ZM857.38 568V589H883.99ZM138.94 631V652H165.55ZM804.16 631V652H830.77ZM245.37 736V757H271.98ZM671.12 736V757H697.73ZM511.46 757V778H538.07ZM671.12 778V799H697.73ZM138.94 799V820H165.55ZM405.03 799V820H431.64ZM644.51 799V820H671.12ZM777.55 799V820H804.16ZM804.16 799V820H830.77ZM857.38 799V820H883.99ZM405.03 820V841H431.64ZM511.46 820V841H538.07ZM644.51 820V841H671.12ZM59.11 841V862H85.72ZM192.15 841V862H218.76ZM405.03 841V862H431.64ZM458.25 841V862H484.85ZM804.16 841V862H830.77ZM857.38 862V883H883.99ZM85.72 883V904H112.33ZM405.03 883V904H431.64ZM564.68 883V904H591.29ZM617.9 883V904H644.51ZM697.73 883V904H724.34ZM138.94 967V988H165.55ZM245.37 967V988H271.98Z"/>
<path fill="#3d4a9e" d="M644.51 85V106H671.12ZM804.16 85V106H830.77ZM671.12 127V148H697.73ZM671.12 463V484H697.73ZM804.16 568V589H830.77ZM85.72 841V862H112.33ZM750.95 883V904H777.55Z"/>
<path fill="none" stroke="#c3c3c3" stroke-width="1.3" d="M32.5 43V1030M59.11 43V1030M85.72 43V1030M112.33 43V1030M138.94 43V1030M165.55 43V1030M192.15 43V1030M218.76 43V1030M245.37 43V1030M271.98 43V1030M298.59 43V1030M325.2 43V1030M351.81 43V1030M378.42 43V1030M405.03 43V1030M431.64 43V1030M458.25 43V1030M484.85 43V1030M511.46 43V1030M538.07 43V1030M564.68 43V1030M591.29 43V1030M617.9 43V1030M644.51 43V1030M671.12 43V1030M697.73 43V1030M724.34 43V1030M750.95 43V1030M777.55 43V1030M804.16 43V1030M830.77 43V1030M857.38 43V1030M883.99 43V1030M910.6 43V1030M32.5 43H910.6M32.5 64H910.6M32.5 85H910.6M32.5 106H910.6M32.5 127H910.6M32.5 148H910.6M32.5 169H910.6M32.5 190H910.6M32.5 211H910.6M32.5 232H910.6M32.5 253H910.6M32.5 274H910.6M32.5 295H910.6M32.5 316H910.6M32.5 337H910.6M32.5 358H910.6M32.5 379H910.6M32.5 400H910.6M32.5 421H910.6M32.5 442H910.6M32.5 463H910.6M32.5 484H910.6M32.5 505H910.6M32.5 526H910.6M32.5 547H910.6M32.5 568H910.6M32.5 589H910.6M32.5 610H910.6M32.5 631H910.6M32.5 652H910.6M32.5 673H910.6M32.5 694H910.6M32.5 715H910.6M32.5 736H910.6M32.5 757H910.6M32.5 778H910.6M32.5 799H910.6M32.5 820H910.6M32.5 841H910.6M32.5 862H910.6M32.5 883H910.6M32.5 904H910.6M32.5 925H910.6M32.5 946H910.6M32.5 967H910.6M32.5 988H910.6M32.5 1009H910.6M32.5 1030H910.6M32.5 1009L59.11 1030M32.5 988L85.72 1030M32.5 967L112.33 1030M32.5 946L138.94 1030M32.5 925L165.55 1030M32.5 904L192.15 1030M32.5 883L218.76 1030M32.5 862L245.37 1030M32.5 841L271.98 1030M32.5 820L298.59 1030M32.5 799L325.2 1030M32.5 778L351.81 1030M32.5 757L378.42 1030M32.5 736L405.03 1030M32.5 715L431.64 1030M32.5 694L458.25 1030M32.5 673L484.85 1030M32.5 652L511.46 1030M32.5 631L538.07 1030M32.5 610L564.68 1030M32.5 589L591.29 1030M32.5 568L617.9 1030M32.5 547L644.51 1030M32.5 526L671.12 1030M32.5 505L697.73 1030M32.5 484L724.34 1030M32.5 463L750.95 1030M32.5 442L777.55 1030M32.5 421L804.16 1030M32.5 400L830.77 1030M32.5 379L857.38 1030M32.5 358L883.99 1030M32.5 337L910.6 1030M32.5 316L910.6 1009M32.5 295L910.6 988M32.5 274L910.6 967M32.5 253L910.6 946M32.5 232L910.6 925M32.5 211L910.6 904M32.5 190L910.6 883M32.5 169L910.6 862M32.5 148L910.6 841M32.5 127L910.6 820M32.5 106L910.6 799M32.5 85L910.6 778M32.5 64L910.6 757M32.5 43L910.6 736M59.11 43L910.6 715M85.72 43L910.6 694M112.33 43L910.6 673M138.94 43L910.6 652M165.55 43L910.6 631M192.15 43L910.6 610M218.76 43L910.6 589M245.37 43L910.6 568M271.98 43L910.6 547M298.59 43L910.6 526M325.2 43L910.6 505M351.81 43L910.6 484M378.42 43L910.6 463M405.03 43L910.6 442M431.64 43L910.6 421M458.25 43L910.6 400M484.85 43L910.6 379M511.46 43L910.6 358M538.07 43L910.6 337M564.68 43L910.6 316M591.29 43L910.6 295M617.9 43L910.6 274M644.51 43L910.6 253M671.12 43L910.6 232M697.73 43L910.6 211M724.34 43L910.6 190M750.95 43L910.6 169M777.55 43L910.6 148M804.16 43L910.6 127M830.77 43L910.6 106M857.38 43L910.6 85M883.99 43L910.6 64"/>
</g>
<g transform="scale(1.2 1)" font-size="15.6" text-anchor="end" fill="#000" stroke="#000" stroke-width="0.28" letter-spacing="0.85">
<text x="72.02" y="55.3">*</text>
<text x="160.71" y="55.3">***</text>
<text x="182.89" y="55.3">*</text>
<text x="205.06" y="55.3">*</text>
<text x="249.41" y="55.3">***</text>
<text x="271.58" y="55.3">**</text>
<text x="293.76" y="55.3">***</text>
<text x="315.93" y="55.3">*</text>
<text x="338.11" y="55.3">**</text>
<text x="360.28" y="55.3">*</text>
<text x="382.45" y="55.3">***</text>
<text x="404.63" y="55.3">***</text>
<text x="537.67" y="55.3">***</text>
<text x="559.85" y="55.3">**</text>
<text x="582.02" y="55.3">*</text>
<text x="715.07" y="55.3">*</text>
<text x="49.84" y="76.3">*</text>
<text x="94.19" y="76.3">*</text>
<text x="160.71" y="76.3">***</text>
<text x="249.41" y="76.3">***</text>
<text x="271.58" y="76.3">***</text>
<text x="293.76" y="76.3">***</text>
<text x="315.93" y="76.3">***</text>
<text x="338.11" y="76.3">***</text>
<text x="360.28" y="76.3">***</text>
<text x="382.45" y="76.3">***</text>
<text x="404.63" y="76.3">***</text>
<text x="426.8" y="76.3">*</text>
<text x="471.15" y="76.3">***</text>
<text x="515.5" y="76.3">***</text>
<text x="537.67" y="76.3">***</text>
<text x="559.85" y="76.3">***</text>
<text x="604.2" y="76.3">***</text>
<text x="626.37" y="76.3">*</text>
<text x="670.72" y="76.3">***</text>
<text x="692.89" y="76.3">*</text>
<text x="715.07" y="76.3">***</text>
<text x="759.42" y="76.3">***</text>
<text x="72.02" y="97.3">***</text>
<text x="94.19" y="97.3">***</text>
<text x="160.71" y="97.3">***</text>
<text x="315.93" y="97.3">***</text>
<text x="360.28" y="97.3">**</text>
<text x="382.45" y="97.3">*</text>
<text x="404.63" y="97.3">***</text>
<text x="426.8" y="97.3">*</text>
<text x="448.98" y="97.3">*</text>
<text x="493.33" y="97.3">*</text>
<text x="537.67" y="97.3">***</text>
<text x="559.85" y="97.3">***</text>
<text x="582.02" y="97.3">**</text>
<text x="626.37" y="97.3">**</text>
<text x="648.55" y="97.3">***</text>
<text x="670.72" y="97.3">***</text>
<text x="692.89" y="97.3">***</text>
<text x="715.07" y="97.3">***</text>
<text x="759.42" y="97.3">**</text>
<text x="49.84" y="118.3">***</text>
<text x="72.02" y="118.3">***</text>
<text x="94.19" y="118.3">***</text>
<text x="116.36" y="118.3">***</text>
<text x="160.71" y="118.3">***</text>
<text x="182.89" y="118.3">***</text>
<text x="227.23" y="118.3">**</text>
<text x="249.41" y="118.3">***</text>
<text x="271.58" y="118.3">***</text>
<text x="293.76" y="118.3">***</text>
<text x="315.93" y="118.3">***</text>
<text x="360.28" y="118.3">***</text>
<text x="382.45" y="118.3">***</text>
<text x="404.63" y="118.3">***</text>
<text x="426.8" y="118.3">*</text>
<text x="448.98" y="118.3">***</text>
<text x="471.15" y="118.3">***</text>
<text x="493.33" y="118.3">***</text>
<text x="515.5" y="118.3">*</text>
<text x="537.67" y="118.3">***</text>
<text x="559.85" y="118.3">***</text>
<text x="604.2" y="118.3">***</text>
<text x="626.37" y="118.3">***</text>
<text x="670.72" y="118.3">***</text>
<text x="692.89" y="118.3">***</text>
<text x="715.07" y="118.3">***</text>
<text x="759.42" y="118.3">***</text>
<text x="160.71" y="139.3">***</text>
<text x="182.89" y="139.3">**</text>
<text x="249.41" y="139.3">***</text>
<text x="293.76" y="139.3">***</text>
<text x="382.45" y="139.3">**</text>
<text x="471.15" y="139.3">**</text>
<text x="493.33" y="139.3">***</text>
<text x="537.67" y="139.3">***</text>
<text x="559.85" y="139.3">**</text>
<text x="582.02" y="139.3">***</text>
<text x="626.37" y="139.3">*</text>
<text x="759.42" y="139.3">*</text>
<text x="49.84" y="160.3">*</text>
<text x="94.19" y="160.3">***</text>
<text x="116.36" y="160.3">*</text>
<text x="160.71" y="160.3">***</text>
<text x="182.89" y="160.3">*</text>
<text x="205.06" y="160.3">***</text>
<text x="249.41" y="160.3">***</text>
<text x="271.58" y="160.3">*</text>
<text x="293.76" y="160.3">***</text>
<text x="315.93" y="160.3">*</text>
<text x="338.11" y="160.3">***</text>
<text x="360.28" y="160.3">***</text>
<text x="382.45" y="160.3">***</text>
<text x="404.63" y="160.3">***</text>
<text x="426.8" y="160.3">**</text>
<text x="471.15" y="160.3">***</text>
<text x="493.33" y="160.3">***</text>
<text x="515.5" y="160.3">*</text>
<text x="537.67" y="160.3">***</text>
<text x="559.85" y="160.3">***</text>
<text x="626.37" y="160.3">***</text>
<text x="759.42" y="160.3">**</text>
<text x="160.71" y="181.3">*</text>
<text x="182.89" y="181.3">*</text>
<text x="249.41" y="181.3">*</text>
<text x="271.58" y="181.3">*</text>
<text x="293.76" y="181.3">***</text>
<text x="338.11" y="181.3">***</text>
<text x="404.63" y="181.3">*</text>
<text x="493.33" y="181.3">***</text>
<text x="537.67" y="181.3">***</text>
<text x="626.37" y="181.3">**</text>
<text x="692.89" y="181.3">**</text>
<text x="94.19" y="202.3">*</text>
<text x="116.36" y="202.3">**</text>
<text x="227.23" y="202.3">*</text>
<text x="515.5" y="202.3">***</text>
<text x="559.85" y="202.3">*</text>
<text x="626.37" y="202.3">**</text>
<text x="670.72" y="202.3">*</text>
<text x="715.07" y="202.3">*</text>
<text x="160.71" y="223.3">***</text>
<text x="182.89" y="223.3">**</text>
<text x="205.06" y="223.3">**</text>
<text x="249.41" y="223.3">***</text>
<text x="271.58" y="223.3">**</text>
<text x="293.76" y="223.3">***</text>
<text x="360.28" y="223.3">*</text>
<text x="382.45" y="223.3">***</text>
<text x="404.63" y="223.3">***</text>
<text x="471.15" y="223.3">*</text>
<text x="493.33" y="223.3">**</text>
<text x="515.5" y="223.3">***</text>
<text x="537.67" y="223.3">***</text>
<text x="559.85" y="223.3">***</text>
<text x="626.37" y="223.3">***</text>
<text x="715.07" y="223.3">*</text>
<text x="249.41" y="244.3">***</text>
<text x="271.58" y="244.3">**</text>
<text x="293.76" y="244.3">**</text>
<text x="360.28" y="244.3">*</text>
<text x="382.45" y="244.3">***</text>
<text x="471.15" y="244.3">*</text>
<text x="537.67" y="244.3">***</text>
<text x="559.85" y="244.3">*</text>
<text x="116.36" y="265.3">*</text>
<text x="160.71" y="265.3">***</text>
<text x="182.89" y="265.3">*</text>
<text x="205.06" y="265.3">*</text>
<text x="249.41" y="265.3">**</text>
<text x="271.58" y="265.3">**</text>
<text x="382.45" y="265.3">**</text>
<text x="404.63" y="265.3">**</text>
<text x="471.15" y="265.3">*</text>
<text x="515.5" y="265.3">*</text>
<text x="559.85" y="265.3">***</text>
<text x="626.37" y="265.3">***</text>
<text x="116.36" y="286.3">*</text>
<text x="182.89" y="286.3">*</text>
<text x="227.23" y="286.3">**</text>
<text x="249.41" y="286.3">***</text>
<text x="271.58" y="286.3">*</text>
<text x="382.45" y="286.3">**</text>
<text x="426.8" y="286.3">*</text>
<text x="537.67" y="286.3">**</text>
<text x="582.02" y="286.3">**</text>
<text x="692.89" y="286.3">*</text>
<text x="759.42" y="286.3">***</text>
<text x="72.02" y="307.3">*</text>
<text x="94.19" y="307.3">*</text>
<text x="160.71" y="307.3">***</text>
<text x="182.89" y="307.3">***</text>
<text x="249.41" y="307.3">***</text>
<text x="293.76" y="307.3">***</text>
<text x="315.93" y="307.3">*</text>
<text x="382.45" y="307.3">***</text>
<text x="404.63" y="307.3">***</text>
<text x="471.15" y="307.3">***</text>
<text x="493.33" y="307.3">**</text>
<text x="537.67" y="307.3">***</text>
<text x="559.85" y="307.3">***</text>
<text x="582.02" y="307.3">**</text>
<text x="604.2" y="307.3">**</text>
<text x="626.37" y="307.3">***</text>
<text x="670.72" y="307.3">*</text>
<text x="715.07" y="307.3">**</text>
<text x="759.42" y="307.3">*</text>
<text x="72.02" y="328.3">***</text>
<text x="94.19" y="328.3">***</text>
<text x="160.71" y="328.3">***</text>
<text x="182.89" y="328.3">**</text>
<text x="249.41" y="328.3">***</text>
<text x="271.58" y="328.3">*</text>
<text x="293.76" y="328.3">***</text>
<text x="360.28" y="328.3">**</text>
<text x="382.45" y="328.3">***</text>
<text x="404.63" y="328.3">***</text>
<text x="471.15" y="328.3">***</text>
<text x="493.33" y="328.3">***</text>
<text x="537.67" y="328.3">***</text>
<text x="559.85" y="328.3">***</text>
<text x="582.02" y="328.3">**</text>
<text x="604.2" y="328.3">***</text>
<text x="670.72" y="328.3">**</text>
<text x="692.89" y="328.3">***</text>
<text x="715.07" y="328.3">***</text>
<text x="759.42" y="328.3">*</text>
<text x="94.19" y="349.3">***</text>
<text x="160.71" y="349.3">***</text>
<text x="227.23" y="349.3">*</text>
<text x="249.41" y="349.3">***</text>
<text x="293.76" y="349.3">***</text>
<text x="471.15" y="349.3">*</text>
<text x="493.33" y="349.3">***</text>
<text x="515.5" y="349.3">**</text>
<text x="537.67" y="349.3">***</text>
<text x="559.85" y="349.3">***</text>
<text x="582.02" y="349.3">***</text>
<text x="626.37" y="349.3">***</text>
<text x="759.42" y="349.3">**</text>
<text x="49.84" y="370.3">***</text>
<text x="72.02" y="370.3">***</text>
<text x="116.36" y="370.3">***</text>
<text x="160.71" y="370.3">**</text>
<text x="182.89" y="370.3">***</text>
<text x="205.06" y="370.3">*</text>
<text x="227.23" y="370.3">***</text>
<text x="249.41" y="370.3">***</text>
<text x="293.76" y="370.3">***</text>
<text x="338.11" y="370.3">***</text>
<text x="360.28" y="370.3">***</text>
<text x="382.45" y="370.3">**</text>
<text x="404.63" y="370.3">***</text>
<text x="426.8" y="370.3">***</text>
<text x="448.98" y="370.3">***</text>
<text x="471.15" y="370.3">***</text>
<text x="537.67" y="370.3">***</text>
<text x="559.85" y="370.3">**</text>
<text x="582.02" y="370.3">**</text>
<text x="604.2" y="370.3">*</text>
<text x="648.55" y="370.3">**</text>
<text x="715.07" y="370.3">***</text>
<text x="737.24" y="370.3">**</text>
<text x="759.42" y="370.3">***</text>
<text x="49.84" y="391.3">***</text>
<text x="94.19" y="391.3">***</text>
<text x="138.54" y="391.3">*</text>
<text x="205.06" y="391.3">**</text>
<text x="293.76" y="391.3">***</text>
<text x="315.93" y="391.3">***</text>
<text x="360.28" y="391.3">***</text>
<text x="382.45" y="391.3">***</text>
<text x="426.8" y="391.3">***</text>
<text x="448.98" y="391.3">*</text>
<text x="471.15" y="391.3">***</text>
<text x="493.33" y="391.3">*</text>
<text x="515.5" y="391.3">***</text>
<text x="537.67" y="391.3">***</text>
<text x="604.2" y="391.3">**</text>
<text x="626.37" y="391.3">***</text>
<text x="648.55" y="391.3">*</text>
<text x="670.72" y="391.3">***</text>
<text x="692.89" y="391.3">***</text>
<text x="715.07" y="391.3">***</text>
<text x="160.71" y="412.3">***</text>
<text x="293.76" y="412.3">**</text>
<text x="382.45" y="412.3">**</text>
<text x="471.15" y="412.3">*</text>
<text x="537.67" y="412.3">***</text>
<text x="94.19" y="433.3">***</text>
<text x="160.71" y="433.3">***</text>
<text x="182.89" y="433.3">**</text>
<text x="205.06" y="433.3">***</text>
<text x="249.41" y="433.3">***</text>
<text x="293.76" y="433.3">***</text>
<text x="315.93" y="433.3">***</text>
<text x="338.11" y="433.3">*</text>
<text x="382.45" y="433.3">***</text>
<text x="404.63" y="433.3">***</text>
<text x="471.15" y="433.3">***</text>
<text x="493.33" y="433.3">***</text>
<text x="515.5" y="433.3">***</text>
<text x="537.67" y="433.3">***</text>
<text x="559.85" y="433.3">***</text>
<text x="604.2" y="433.3">***</text>
<text x="626.37" y="433.3">***</text>
<text x="670.72" y="433.3">**</text>
<text x="715.07" y="433.3">***</text>
<text x="759.42" y="433.3">*</text>
<text x="94.19" y="454.3">***</text>
<text x="249.41" y="454.3">***</text>
<text x="271.58" y="454.3">*</text>
<text x="515.5" y="454.3">**</text>
<text x="537.67" y="454.3">*</text>
<text x="559.85" y="454.3">*</text>
<text x="582.02" y="454.3">*</text>
<text x="626.37" y="454.3">**</text>
<text x="670.72" y="454.3">*</text>
<text x="692.89" y="454.3">*</text>
<text x="715.07" y="454.3">**</text>
<text x="94.19" y="475.3">***</text>
<text x="160.71" y="475.3">***</text>
<text x="249.41" y="475.3">***</text>
<text x="360.28" y="475.3">***</text>
<text x="382.45" y="475.3">***</text>
<text x="404.63" y="475.3">***</text>
<text x="559.85" y="475.3">*</text>
<text x="582.02" y="475.3">***</text>
<text x="648.55" y="475.3">**</text>
<text x="670.72" y="475.3">**</text>
<text x="692.89" y="475.3">*</text>
<text x="715.07" y="475.3">***</text>
<text x="72.02" y="496.3">***</text>
<text x="94.19" y="496.3">***</text>
<text x="160.71" y="496.3">***</text>
<text x="182.89" y="496.3">***</text>
<text x="205.06" y="496.3">***</text>
<text x="227.23" y="496.3">***</text>
<text x="249.41" y="496.3">***</text>
<text x="293.76" y="496.3">***</text>
<text x="315.93" y="496.3">***</text>
<text x="338.11" y="496.3">***</text>
<text x="360.28" y="496.3">***</text>
<text x="382.45" y="496.3">**</text>
<text x="404.63" y="496.3">***</text>
<text x="471.15" y="496.3">***</text>
<text x="493.33" y="496.3">**</text>
<text x="515.5" y="496.3">**</text>
<text x="537.67" y="496.3">***</text>
<text x="559.85" y="496.3">***</text>
<text x="582.02" y="496.3">*</text>
<text x="604.2" y="496.3">**</text>
<text x="626.37" y="496.3">**</text>
<text x="670.72" y="496.3">***</text>
<text x="715.07" y="496.3">***</text>
<text x="138.54" y="517.3">*</text>
<text x="160.71" y="517.3">***</text>
<text x="182.89" y="517.3">***</text>
<text x="249.41" y="517.3">***</text>
<text x="293.76" y="517.3">***</text>
<text x="426.8" y="517.3">*</text>
<text x="537.67" y="517.3">***</text>
<text x="582.02" y="517.3">*</text>
<text x="692.89" y="517.3">*</text>
<text x="715.07" y="517.3">**</text>
<text x="759.42" y="517.3">*</text>
<text x="249.41" y="538.3">***</text>
<text x="293.76" y="538.3">**</text>
<text x="493.33" y="538.3">*</text>
<text x="626.37" y="538.3">*</text>
<text x="160.71" y="559.3">***</text>
<text x="249.41" y="559.3">***</text>
<text x="293.76" y="559.3">*</text>
<text x="315.93" y="559.3">***</text>
<text x="338.11" y="559.3">*</text>
<text x="382.45" y="559.3">***</text>
<text x="426.8" y="559.3">*</text>
<text x="471.15" y="559.3">***</text>
<text x="537.67" y="559.3">***</text>
<text x="559.85" y="559.3">*</text>
<text x="626.37" y="559.3">*</text>
<text x="94.19" y="580.3">***</text>
<text x="116.36" y="580.3">*</text>
<text x="160.71" y="580.3">**</text>
<text x="249.41" y="580.3">*</text>
<text x="338.11" y="580.3">**</text>
<text x="360.28" y="580.3">**</text>
<text x="404.63" y="580.3">**</text>
<text x="559.85" y="580.3">*</text>
<text x="582.02" y="580.3">***</text>
<text x="648.55" y="580.3">*</text>
<text x="692.89" y="580.3">***</text>
<text x="715.07" y="580.3">*</text>
<text x="49.84" y="601.3">*</text>
<text x="116.36" y="601.3">***</text>
<text x="249.41" y="601.3">**</text>
<text x="338.11" y="601.3">***</text>
<text x="360.28" y="601.3">***</text>
<text x="382.45" y="601.3">**</text>
<text x="404.63" y="601.3">***</text>
<text x="537.67" y="601.3">*</text>
<text x="582.02" y="601.3">***</text>
<text x="715.07" y="601.3">***</text>
<text x="160.71" y="622.3">*</text>
<text x="293.76" y="622.3">***</text>
<text x="382.45" y="622.3">**</text>
<text x="426.8" y="622.3">*</text>
<text x="471.15" y="622.3">*</text>
<text x="493.33" y="622.3">**</text>
<text x="537.67" y="622.3">**</text>
<text x="94.19" y="643.3">***</text>
<text x="160.71" y="643.3">***</text>
<text x="182.89" y="643.3">*</text>
<text x="271.58" y="643.3">**</text>
<text x="293.76" y="643.3">***</text>
<text x="315.93" y="643.3">***</text>
<text x="360.28" y="643.3">**</text>
<text x="404.63" y="643.3">***</text>
<text x="471.15" y="643.3">**</text>
<text x="493.33" y="643.3">***</text>
<text x="515.5" y="643.3">**</text>
<text x="537.67" y="643.3">***</text>
<text x="559.85" y="643.3">***</text>
<text x="604.2" y="643.3">**</text>
<text x="626.37" y="643.3">***</text>
<text x="670.72" y="643.3">*</text>
<text x="715.07" y="643.3">***</text>
<text x="759.42" y="643.3">*</text>
<text x="72.02" y="664.3">***</text>
<text x="182.89" y="664.3">*</text>
<text x="293.76" y="664.3">***</text>
<text x="382.45" y="664.3">**</text>
<text x="426.8" y="664.3">*</text>
<text x="493.33" y="664.3">**</text>
<text x="670.72" y="664.3">**</text>
<text x="692.89" y="664.3">*</text>
<text x="138.54" y="685.3">*</text>
<text x="160.71" y="685.3">**</text>
<text x="182.89" y="685.3">**</text>
<text x="293.76" y="685.3">***</text>
<text x="315.93" y="685.3">**</text>
<text x="382.45" y="685.3">***</text>
<text x="404.63" y="685.3">***</text>
<text x="493.33" y="685.3">***</text>
<text x="515.5" y="685.3">***</text>
<text x="537.67" y="685.3">***</text>
<text x="559.85" y="685.3">*</text>
<text x="604.2" y="685.3">**</text>
<text x="626.37" y="685.3">*</text>
<text x="670.72" y="685.3">**</text>
<text x="692.89" y="685.3">*</text>
<text x="715.07" y="685.3">***</text>
<text x="759.42" y="685.3">**</text>
<text x="94.19" y="706.3">*</text>
<text x="160.71" y="706.3">**</text>
<text x="205.06" y="706.3">**</text>
<text x="227.23" y="706.3">**</text>
<text x="249.41" y="706.3">***</text>
<text x="293.76" y="706.3">*</text>
<text x="315.93" y="706.3">***</text>
<text x="338.11" y="706.3">*</text>
<text x="404.63" y="706.3">*</text>
<text x="426.8" y="706.3">*</text>
<text x="448.98" y="706.3">**</text>
<text x="471.15" y="706.3">***</text>
<text x="537.67" y="706.3">**</text>
<text x="582.02" y="706.3">*</text>
<text x="604.2" y="706.3">**</text>
<text x="692.89" y="706.3">***</text>
<text x="715.07" y="706.3">*</text>
<text x="94.19" y="727.3">***</text>
<text x="293.76" y="727.3">**</text>
<text x="94.19" y="748.3">***</text>
<text x="160.71" y="748.3">*</text>
<text x="249.41" y="748.3">**</text>
<text x="271.58" y="748.3">*</text>
<text x="315.93" y="748.3">**</text>
<text x="338.11" y="748.3">*</text>
<text x="360.28" y="748.3">*</text>
<text x="404.63" y="748.3">**</text>
<text x="515.5" y="748.3">**</text>
<text x="582.02" y="748.3">*</text>
<text x="94.19" y="769.3">*</text>
<text x="382.45" y="769.3">**</text>
<text x="471.15" y="769.3">*</text>
<text x="493.33" y="769.3">*</text>
<text x="537.67" y="769.3">**</text>
<text x="559.85" y="769.3">*</text>
<text x="582.02" y="769.3">***</text>
<text x="94.19" y="790.3">***</text>
<text x="116.36" y="790.3">*</text>
<text x="249.41" y="790.3">***</text>
<text x="271.58" y="790.3">***</text>
<text x="360.28" y="790.3">***</text>
<text x="382.45" y="790.3">*</text>
<text x="404.63" y="790.3">**</text>
<text x="426.8" y="790.3">*</text>
<text x="537.67" y="790.3">*</text>
<text x="582.02" y="790.3">*</text>
<text x="604.2" y="790.3">*</text>
<text x="692.89" y="790.3">**</text>
<text x="715.07" y="790.3">**</text>
<text x="94.19" y="811.3">***</text>
<text x="160.71" y="811.3">**</text>
<text x="182.89" y="811.3">*</text>
<text x="271.58" y="811.3">**</text>
<text x="360.28" y="811.3">***</text>
<text x="471.15" y="811.3">***</text>
<text x="493.33" y="811.3">**</text>
<text x="537.67" y="811.3">*</text>
<text x="582.02" y="811.3">*</text>
<text x="626.37" y="811.3">***</text>
<text x="648.55" y="811.3">**</text>
<text x="670.72" y="811.3">***</text>
<text x="715.07" y="811.3">*</text>
<text x="759.42" y="811.3">**</text>
<text x="94.19" y="832.3">***</text>
<text x="249.41" y="832.3">**</text>
<text x="293.76" y="832.3">***</text>
<text x="315.93" y="832.3">*</text>
<text x="338.11" y="832.3">***</text>
<text x="360.28" y="832.3">***</text>
<text x="382.45" y="832.3">**</text>
<text x="426.8" y="832.3">**</text>
<text x="493.33" y="832.3">*</text>
<text x="537.67" y="832.3">*</text>
<text x="559.85" y="832.3">*</text>
<text x="582.02" y="832.3">***</text>
<text x="648.55" y="832.3">**</text>
<text x="72.02" y="853.3">**</text>
<text x="94.19" y="853.3">***</text>
<text x="116.36" y="853.3">*</text>
<text x="160.71" y="853.3">***</text>
<text x="360.28" y="853.3">***</text>
<text x="404.63" y="853.3">***</text>
<text x="493.33" y="853.3">***</text>
<text x="537.67" y="853.3">**</text>
<text x="559.85" y="853.3">**</text>
<text x="582.02" y="853.3">***</text>
<text x="648.55" y="853.3">***</text>
<text x="670.72" y="853.3">***</text>
<text x="715.07" y="853.3">***</text>
<text x="94.19" y="874.3">*</text>
<text x="227.23" y="874.3">**</text>
<text x="249.41" y="874.3">***</text>
<text x="271.58" y="874.3">*</text>
<text x="293.76" y="874.3">***</text>
<text x="315.93" y="874.3">**</text>
<text x="582.02" y="874.3">***</text>
<text x="626.37" y="874.3">*</text>
<text x="692.89" y="874.3">**</text>
<text x="94.19" y="895.3">***</text>
<text x="293.76" y="895.3">***</text>
<text x="360.28" y="895.3">***</text>
<text x="404.63" y="895.3">*</text>
<text x="448.98" y="895.3">*</text>
<text x="493.33" y="895.3">*</text>
<text x="537.67" y="895.3">***</text>
<text x="582.02" y="895.3">***</text>
<text x="604.2" y="895.3">***</text>
<text x="648.55" y="895.3">***</text>
<text x="670.72" y="895.3">***</text>
<text x="692.89" y="895.3">*</text>
<text x="94.19" y="916.3">***</text>
<text x="116.36" y="916.3">***</text>
<text x="160.71" y="916.3">***</text>
<text x="182.89" y="916.3">***</text>
<text x="249.41" y="916.3">***</text>
<text x="271.58" y="916.3">**</text>
<text x="293.76" y="916.3">***</text>
<text x="315.93" y="916.3">***</text>
<text x="360.28" y="916.3">*</text>
<text x="382.45" y="916.3">***</text>
<text x="404.63" y="916.3">***</text>
<text x="426.8" y="916.3">***</text>
<text x="448.98" y="916.3">**</text>
<text x="471.15" y="916.3">***</text>
<text x="493.33" y="916.3">***</text>
<text x="537.67" y="916.3">***</text>
<text x="559.85" y="916.3">***</text>
<text x="604.2" y="916.3">*</text>
<text x="626.37" y="916.3">**</text>
<text x="670.72" y="916.3">***</text>
<text x="692.89" y="916.3">***</text>
<text x="715.07" y="916.3">***</text>
<text x="759.42" y="916.3">*</text>
<text x="160.71" y="937.3">***</text>
<text x="249.41" y="937.3">***</text>
<text x="271.58" y="937.3">**</text>
<text x="338.11" y="937.3">*</text>
<text x="360.28" y="937.3">*</text>
<text x="382.45" y="937.3">***</text>
<text x="404.63" y="937.3">**</text>
<text x="493.33" y="937.3">*</text>
<text x="515.5" y="937.3">*</text>
<text x="537.67" y="937.3">***</text>
<text x="559.85" y="937.3">***</text>
<text x="626.37" y="937.3">**</text>
<text x="94.19" y="958.3">**</text>
<text x="160.71" y="958.3">***</text>
<text x="271.58" y="958.3">*</text>
<text x="293.76" y="958.3">***</text>
<text x="315.93" y="958.3">**</text>
<text x="338.11" y="958.3">***</text>
<text x="382.45" y="958.3">**</text>
<text x="404.63" y="958.3">**</text>
<text x="471.15" y="958.3">***</text>
<text x="493.33" y="958.3">***</text>
<text x="515.5" y="958.3">***</text>
<text x="537.67" y="958.3">***</text>
<text x="559.85" y="958.3">***</text>
<text x="670.72" y="958.3">***</text>
<text x="715.07" y="958.3">***</text>
<text x="759.42" y="958.3">**</text>
<text x="94.19" y="979.3">***</text>
<text x="116.36" y="979.3">*</text>
<text x="160.71" y="979.3">***</text>
<text x="182.89" y="979.3">***</text>
<text x="227.23" y="979.3">*</text>
<text x="249.41" y="979.3">***</text>
<text x="293.76" y="979.3">***</text>
<text x="338.11" y="979.3">**</text>
<text x="382.45" y="979.3">***</text>
<text x="404.63" y="979.3">***</text>
<text x="471.15" y="979.3">*</text>
<text x="493.33" y="979.3">***</text>
<text x="515.5" y="979.3">*</text>
<text x="537.67" y="979.3">***</text>
<text x="559.85" y="979.3">***</text>
<text x="582.02" y="979.3">***</text>
<text x="604.2" y="979.3">**</text>
<text x="626.37" y="979.3">***</text>
<text x="692.89" y="979.3">**</text>
<text x="759.42" y="979.3">*</text>
<text x="72.02" y="1000.3">*</text>
<text x="94.19" y="1000.3">***</text>
<text x="160.71" y="1000.3">***</text>
<text x="182.89" y="1000.3">*</text>
<text x="249.41" y="1000.3">*</text>
<text x="315.93" y="1000.3">***</text>
<text x="382.45" y="1000.3">*</text>
<text x="404.63" y="1000.3">**</text>
<text x="426.8" y="1000.3">*</text>
<text x="471.15" y="1000.3">***</text>
<text x="493.33" y="1000.3">***</text>
<text x="515.5" y="1000.3">***</text>
<text x="537.67" y="1000.3">***</text>
<text x="559.85" y="1000.3">***</text>
<text x="604.2" y="1000.3">***</text>
<text x="670.72" y="1000.3">***</text>
<text x="715.07" y="1000.3">**</text>
<text x="759.42" y="1000.3">***</text>
<text x="94.19" y="1021.3">*</text>
<text x="160.71" y="1021.3">***</text>
<text x="182.89" y="1021.3">***</text>
<text x="205.06" y="1021.3">**</text>
<text x="249.41" y="1021.3">***</text>
<text x="293.76" y="1021.3">*</text>
<text x="360.28" y="1021.3">*</text>
<text x="471.15" y="1021.3">***</text>
<text x="493.33" y="1021.3">*</text>
<text x="537.67" y="1021.3">***</text>
<text x="559.85" y="1021.3">***</text>
<text x="582.02" y="1021.3">*</text>
<text x="626.37" y="1021.3">**</text>
<text x="715.07" y="1021.3">*</text>
</g>
<g transform="scale(1 1.045)" font-size="21.2" fill="#000" stroke="#000" stroke-width="0.2">
<text x="915.6" y="58.37">BTLA</text>
<text x="915.6" y="78.47">CD200</text>
<text x="915.6" y="98.56">TNFRSF14</text>
<text x="915.6" y="118.66">NRP1</text>
<text x="915.6" y="138.76">LAIR1</text>
<text x="915.6" y="158.85">TNFSF4</text>
<text x="915.6" y="178.95">CD244</text>
<text x="915.6" y="199.04">LAG3</text>
<text x="915.6" y="219.14">ICOS</text>
<text x="915.6" y="239.23">CD40LG</text>
<text x="915.6" y="259.33">CTLA4</text>
<text x="915.6" y="279.43">CD48</text>
<text x="915.6" y="299.52">CD28</text>
<text x="915.6" y="319.62">CD200R1</text>
<text x="915.6" y="339.71">HAVCR2</text>
<text x="915.6" y="359.81">ADORA2A</text>
<text x="915.6" y="379.9">CD276</text>
<text x="915.6" y="400">KIR3DL1</text>
<text x="915.6" y="420.1">CD80</text>
<text x="915.6" y="440.19">PDCD1</text>
<text x="915.6" y="460.29">LGALS9</text>
<text x="915.6" y="480.38">CD160</text>
<text x="915.6" y="500.48">TNFSF14</text>
<text x="915.6" y="520.57">IDO2</text>
<text x="915.6" y="540.67">ICOSLG</text>
<text x="915.6" y="560.77">TMIGD2</text>
<text x="915.6" y="580.86">VTCN1</text>
<text x="915.6" y="600.96">IDO1</text>
<text x="915.6" y="621.05">PDCD1LG2</text>
<text x="915.6" y="641.15">HHLA2</text>
<text x="915.6" y="661.24">TNFSF18</text>
<text x="915.6" y="681.34">BTNL2</text>
<text x="915.6" y="701.44">CD70</text>
<text x="915.6" y="721.53">TNFSF9</text>
<text x="915.6" y="741.63">TNFRSF8</text>
<text x="915.6" y="761.72">CD27</text>
<text x="915.6" y="781.82">TNFRSF25</text>
<text x="915.6" y="801.91">VSIR</text>
<text x="915.6" y="822.01">TNFRSF4</text>
<text x="915.6" y="842.11">CD40</text>
<text x="915.6" y="862.2">TNFRSF18</text>
<text x="915.6" y="882.3">TNFSF15</text>
<text x="915.6" y="902.39">TIGIT</text>
<text x="915.6" y="922.49">CD274</text>
<text x="915.6" y="942.58">CD86</text>
<text x="915.6" y="962.68">CD44</text>
<text x="915.6" y="982.78">TNFRSF9</text>
</g>
<g font-size="21.2" fill="#000" stroke="#000" stroke-width="0.2" text-anchor="end">
<text transform="translate(53.5 1034.9) rotate(-90) scale(1 1.045)">ACC</text>
<text transform="translate(80.11 1034.9) rotate(-90) scale(1 1.045)">BLCA</text>
<text transform="translate(106.72 1034.9) rotate(-90) scale(1 1.045)">BRCA</text>
<text transform="translate(133.33 1034.9) rotate(-90) scale(1 1.045)">CESC</text>
<text transform="translate(159.94 1034.9) rotate(-90) scale(1 1.045)">CHOL</text>
<text transform="translate(186.55 1034.9) rotate(-90) scale(1 1.045)">COAD</text>
<text transform="translate(213.16 1034.9) rotate(-90) scale(1 1.045)">DLBC</text>
<text transform="translate(239.77 1034.9) rotate(-90) scale(1 1.045)">ESCA</text>
<text transform="translate(266.38 1034.9) rotate(-90) scale(1 1.045)">GBM</text>
<text transform="translate(292.99 1034.9) rotate(-90) scale(1 1.045)">HNSC</text>
<text transform="translate(319.6 1034.9) rotate(-90) scale(1 1.045)">KICH</text>
<text transform="translate(346.2 1034.9) rotate(-90) scale(1 1.045)">KIRC</text>
<text transform="translate(372.81 1034.9) rotate(-90) scale(1 1.045)">KIRP</text>
<text transform="translate(399.42 1034.9) rotate(-90) scale(1 1.045)">LAML</text>
<text transform="translate(426.03 1034.9) rotate(-90) scale(1 1.045)">LGG</text>
<text transform="translate(452.64 1034.9) rotate(-90) scale(1 1.045)">LIHC</text>
<text transform="translate(479.25 1034.9) rotate(-90) scale(1 1.045)">LUAD</text>
<text transform="translate(505.86 1034.9) rotate(-90) scale(1 1.045)">LUSC</text>
<text transform="translate(532.47 1034.9) rotate(-90) scale(1 1.045)">MESO</text>
<text transform="translate(559.08 1034.9) rotate(-90) scale(1 1.045)">OV</text>
<text transform="translate(585.69 1034.9) rotate(-90) scale(1 1.045)">PAAD</text>
<text transform="translate(612.3 1034.9) rotate(-90) scale(1 1.045)">PCPG</text>
<text transform="translate(638.9 1034.9) rotate(-90) scale(1 1.045)">PRAD</text>
<text transform="translate(665.51 1034.9) rotate(-90) scale(1 1.045)">READ</text>
<text transform="translate(692.12 1034.9) rotate(-90) scale(1 1.045)">SARC</text>
<text transform="translate(718.73 1034.9) rotate(-90) scale(1 1.045)">SKCM</text>
<text transform="translate(745.34 1034.9) rotate(-90) scale(1 1.045)">STAD</text>
<text transform="translate(771.95 1034.9) rotate(-90) scale(1 1.045)">TGCT</text>
<text transform="translate(798.56 1034.9) rotate(-90) scale(1 1.045)">THCA</text>
<text transform="translate(825.17 1034.9) rotate(-90) scale(1 1.045)">THYM</text>
<text transform="translate(851.78 1034.9) rotate(-90) scale(1 1.045)">UCEC</text>
<text transform="translate(878.39 1034.9) rotate(-90) scale(1 1.045)">UCS</text>
<text transform="translate(905 1034.9) rotate(-90) scale(1 1.045)">UVM</text>
</g>
<g font-weight="bold" font-size="40" fill="#000">
<text transform="translate(1.3 31.5) scale(1.105 1.055)">A</text>
<text transform="translate(1119.8 76.6) scale(1 1.055)">B</text>
<text transform="translate(1118.8 674.3) scale(1 1.055)">C</text>
<text transform="translate(1441.9 88.2) scale(1 1.055)" text-anchor="middle">TMB</text>
<text transform="translate(1445 676.6) scale(1 1.055)" text-anchor="middle">MSI</text>
</g>
<rect x="1112" y="673.4" width="44" height="6" fill="#fff"/>
<defs>
<linearGradient id="gr" x1="0" x2="1" y1="0" y2="0"><stop offset="0" stop-color="#36479e"/><stop offset="0.011" stop-color="#36479e"/><stop offset="0.13" stop-color="#5f5aa6"/><stop offset="0.255" stop-color="#9183be"/><stop offset="0.38" stop-color="#cdc1e0"/><stop offset="0.5" stop-color="#ffffff"/><stop offset="0.62" stop-color="#f3cfc1"/><stop offset="0.745" stop-color="#e0917a"/><stop offset="0.87" stop-color="#d4583f"/><stop offset="0.989" stop-color="#ca1a20"/><stop offset="1" stop-color="#ca1a20"/></linearGradient>
<linearGradient id="gp" x1="0" x2="1" y1="0" y2="0"><stop offset="0" stop-color="#ffffff"/><stop offset="0.011" stop-color="#ffffff"/><stop offset="0.255" stop-color="#d4dfd9"/><stop offset="0.5" stop-color="#b0c3ba"/><stop offset="0.745" stop-color="#94aca1"/><stop offset="0.989" stop-color="#7a968a"/><stop offset="1" stop-color="#7a968a"/></linearGradient>
</defs>
<rect x="277.4" y="1132.4" width="254" height="21.5" fill="url(#gr)"/>
<rect x="550.5" y="1132.4" width="237.3" height="21.5" fill="url(#gp)"/>
<path d="M280.1 1132.4v4.3M280.1 1153.9v-4.3M342.1 1132.4v4.3M342.1 1153.9v-4.3M404.1 1132.4v4.3M404.1 1153.9v-4.3M466.1 1132.4v4.3M466.1 1153.9v-4.3M528 1132.4v4.3M528 1153.9v-4.3M553.2 1132.4v4.3M553.2 1153.9v-4.3M611 1132.4v4.3M611 1153.9v-4.3M668.9 1132.4v4.3M668.9 1153.9v-4.3M726.6 1132.4v4.3M726.6 1153.9v-4.3M784.5 1132.4v4.3M784.5 1153.9v-4.3" stroke="#fff" stroke-width="1.1" fill="none"/>
<g transform="scale(1 1.045)" font-size="17.5" fill="#000" text-anchor="middle">
<text x="280.1" y="1120.38">−0.36</text>
<text x="342.1" y="1120.38">−0.18</text>
<text x="404.1" y="1120.38">0</text>
<text x="466.1" y="1120.38">0.18</text>
<text x="528" y="1120.38">0.36</text>
<text x="553.2" y="1120.38">5</text>
<text x="611" y="1120.38">6.35</text>
<text x="668.9" y="1120.38">7.69</text>
<text x="726.6" y="1120.38">9.04</text>
<text x="784.5" y="1120.38">10.39</text>
</g>
<g font-weight="bold" fill="#000">
<text x="278.3" y="1125.3" font-size="17.35">Pearson's rho</text>
<text x="550.8" y="1125.3" font-size="17.6">−log10(p value)</text>
</g>
<g>
<circle cx="1419.4" cy="341.5" r="200.5" fill="#f7f7f6"/>
<path d="M1419.4 321.8L1419.4 141M1423.24 322.18L1458.52 144.85M1426.94 323.3L1496.13 156.26M1430.34 325.12L1530.79 174.79M1433.33 327.57L1561.17 199.73M1435.78 330.56L1586.11 230.11M1437.6 333.96L1604.64 264.77M1438.72 337.66L1616.05 302.38M1439.1 341.5L1619.9 341.5M1438.72 345.34L1616.05 380.62M1437.6 349.04L1604.64 418.23M1435.78 352.44L1586.11 452.89M1433.33 355.43L1561.17 483.27M1430.34 357.88L1530.79 508.21M1426.94 359.7L1496.13 526.74M1423.24 360.82L1458.52 538.15M1419.4 361.2L1419.4 542M1415.56 360.82L1380.28 538.15M1411.86 359.7L1342.67 526.74M1408.46 357.88L1308.01 508.21M1405.47 355.43L1277.63 483.27M1403.02 352.44L1252.69 452.89M1401.2 349.04L1234.16 418.23M1400.08 345.34L1222.75 380.62M1399.7 341.5L1218.9 341.5M1400.08 337.66L1222.75 302.38M1401.2 333.96L1234.16 264.77M1403.02 330.56L1252.69 230.11M1405.47 327.57L1277.63 199.73M1408.46 325.12L1308.01 174.79M1411.86 323.3L1342.67 156.26M1415.56 322.18L1380.28 144.85" stroke="#bcbcbc" stroke-width="1.6" fill="none"/>
<circle cx="1419.4" cy="341.5" r="200.5" fill="none" stroke="#b2b2b2" stroke-width="1.55" stroke-dasharray="10.5 3.8"/>
<circle cx="1419.4" cy="341.5" r="19.7" fill="none" stroke="#b2b2b2" stroke-width="1.55" stroke-dasharray="10.5 3.8"/>
<circle cx="1419.4" cy="341.5" r="110.2" fill="none" stroke="#5f8a8b" stroke-width="1.5" stroke-dasharray="10.5 3.8" stroke-dashoffset="-6.6"/>
<polygon points="1421,221.9 1438.4,253.4 1455.4,257 1476.8,257.8 1523.1,238.9 1496.4,290.1 1505.6,305.6 1545,316.3 1525.4,340.8 1532.3,362.7 1502.3,373.9 1478.1,378.2 1562.6,482.3 1497.4,454.8 1447.3,403.6 1452.1,495.1 1421,464.8 1396.8,461.4 1374.9,452.3 1359.9,431.9 1348.2,413.6 1335,398 1328.6,378.9 1277.4,369.3 1279.7,340.5 1259.3,308.4 1316.1,296.7 1390.2,319.1 1301.9,221.1 1337.8,215.5 1396.3,280.9 1410.1,285.3" fill="none" stroke="#4e78ae" stroke-width="2.6" stroke-linejoin="round"/>
<circle cx="1421" cy="221.9" r="6.4" fill="#4e78ae"/>
<circle cx="1438.4" cy="253.4" r="6.4" fill="#4e78ae"/>
<circle cx="1455.4" cy="257" r="6.4" fill="#4e78ae"/>
<circle cx="1476.8" cy="257.8" r="6.4" fill="#4e78ae"/>
<circle cx="1523.1" cy="238.9" r="6.4" fill="#4e78ae"/>
<circle cx="1496.4" cy="290.1" r="6.4" fill="#4e78ae"/>
<circle cx="1505.6" cy="305.6" r="6.4" fill="#4e78ae"/>
<circle cx="1545" cy="316.3" r="6.4" fill="#4e78ae"/>
<circle cx="1525.4" cy="340.8" r="6.4" fill="#4e78ae"/>
<circle cx="1532.3" cy="362.7" r="6.4" fill="#4e78ae"/>
<circle cx="1502.3" cy="373.9" r="6.4" fill="#4e78ae"/>
<circle cx="1478.1" cy="378.2" r="6.4" fill="#4e78ae"/>
<circle cx="1562.6" cy="482.3" r="6.4" fill="#4e78ae"/>
<circle cx="1497.4" cy="454.8" r="6.4" fill="#4e78ae"/>
<circle cx="1447.3" cy="403.6" r="6.4" fill="#4e78ae"/>
<circle cx="1452.1" cy="495.1" r="6.4" fill="#4e78ae"/>
<circle cx="1421" cy="464.8" r="6.4" fill="#4e78ae"/>
<circle cx="1396.8" cy="461.4" r="6.4" fill="#4e78ae"/>
<circle cx="1374.9" cy="452.3" r="6.4" fill="#4e78ae"/>
<circle cx="1359.9" cy="431.9" r="6.4" fill="#4e78ae"/>
<circle cx="1348.2" cy="413.6" r="6.4" fill="#4e78ae"/>
<circle cx="1335" cy="398" r="6.4" fill="#4e78ae"/>
<circle cx="1328.6" cy="378.9" r="6.4" fill="#4e78ae"/>
<circle cx="1277.4" cy="369.3" r="6.4" fill="#4e78ae"/>
<circle cx="1279.7" cy="340.5" r="6.4" fill="#4e78ae"/>
<circle cx="1259.3" cy="308.4" r="6.4" fill="#4e78ae"/>
<circle cx="1316.1" cy="296.7" r="6.4" fill="#4e78ae"/>
<circle cx="1390.2" cy="319.1" r="6.4" fill="#4e78ae"/>
<circle cx="1301.9" cy="221.1" r="6.4" fill="#4e78ae"/>
<circle cx="1337.8" cy="215.5" r="6.4" fill="#4e78ae"/>
<circle cx="1396.3" cy="280.9" r="6.4" fill="#4e78ae"/>
<circle cx="1410.1" cy="285.3" r="6.4" fill="#4e78ae"/>
<g transform="scale(1 1.045)" font-size="14" fill="#000" text-anchor="middle">
<text x="1375.7" y="142.01">0.28</text>
<text x="1392.7" y="227.75">0</text>
<text x="1369.2" y="314.07">−0.28</text>
</g>
<g transform="scale(1 1.045)" font-size="14.1">
<text x="1385.86" y="110.33" fill="#000000">BLCA,P=0.6</text>
<text x="1464.45" y="114.57" fill="#5aa9e6">BRCA,P=0.038</text>
<text x="1507.76" y="127.12" fill="#000000">CESC,P=0.3</text>
<text x="1547.68" y="147.49" fill="#000000">CHOL,P=0.85</text>
<text x="1582.67" y="174.91" fill="#b5202e">COAD,P=0.04</text>
<text x="1611.39" y="208.32" fill="#000000">DLBC,P=0.72</text>
<text x="1632.72" y="246.44" fill="#000000">ESCA,P=0.46</text>
<text x="1645.86" y="287.8" fill="#000000">GBM,P=0.56</text>
<text x="1650.3" y="330.81" fill="#000000">HNSC,P=0.66</text>
<text x="1645.86" y="373.83" fill="#000000">KICH,P=0.95</text>
<text x="1632.72" y="415.19" fill="#000000">KIRC,P=0.22</text>
<text x="1611.39" y="453.3" fill="#5aa9e6">KIRP,P=0.029</text>
<text x="1582.67" y="486.72" fill="#b5202e">LAML,P=0.0035</text>
<text x="1547.68" y="514.13" fill="#000000">LGG,P=0.06</text>
<text x="1507.76" y="534.51" fill="#5aa9e6">LIHC,P=0.014</text>
<text x="1464.45" y="547.06" fill="#b5202e">LUAD,P=0.001</text>
<text x="1382.16" y="551.29" fill="#000000">LUSC,P=0.33</text>
<text x="1296.51" y="547.06" fill="#000000">MESO,P=0.72</text>
<text x="1279.24" y="534.51" fill="#000000">OV,P=0.6</text>
<text x="1233.72" y="514.13" fill="#000000">PAAD,P=1</text>
<text x="1179.63" y="486.72" fill="#000000">PCPG,P=0.79</text>
<text x="1151.59" y="453.3" fill="#000000">PRAD,P=0.67</text>
<text x="1130.25" y="415.19" fill="#000000">READ,P=0.72</text>
<text x="1110.36" y="373.83" fill="#000000">SARC,P=0.086</text>
<text x="1104.58" y="330.81" fill="#b5202e">SKCM,P=0.037</text>
<text x="1112.62" y="287.8" fill="#b5202e">STAD,P=0.001</text>
<text x="1139.02" y="246.44" fill="#000000">TGCT,P=0.9</text>
<text x="1131.7" y="208.32" fill="#5aa9e6">THCA,P=6.9e−07</text>
<text x="1172.89" y="174.91" fill="#b5202e">THYM,P=0.048</text>
<text x="1201.13" y="147.49" fill="#b5202e">UCEC,P=0.0043</text>
<text x="1270.04" y="127.12" fill="#000000">UCS,P=0.3</text>
<text x="1305.27" y="114.57" fill="#000000">UVM,P=0.14</text>
</g>
</g>
<g>
<circle cx="1425.8" cy="937.8" r="200.5" fill="#f7f7f6"/>
<path d="M1425.8 918.1L1425.8 737.3M1429.64 918.48L1464.92 741.15M1433.34 919.6L1502.53 752.56M1436.74 921.42L1537.19 771.09M1439.73 923.87L1567.57 796.03M1442.18 926.86L1592.51 826.41M1444 930.26L1611.04 861.07M1445.12 933.96L1622.45 898.68M1445.5 937.8L1626.3 937.8M1445.12 941.64L1622.45 976.92M1444 945.34L1611.04 1014.53M1442.18 948.74L1592.51 1049.19M1439.73 951.73L1567.57 1079.57M1436.74 954.18L1537.19 1104.51M1433.34 956L1502.53 1123.04M1429.64 957.12L1464.92 1134.45M1425.8 957.5L1425.8 1138.3M1421.96 957.12L1386.68 1134.45M1418.26 956L1349.07 1123.04M1414.86 954.18L1314.41 1104.51M1411.87 951.73L1284.03 1079.57M1409.42 948.74L1259.09 1049.19M1407.6 945.34L1240.56 1014.53M1406.48 941.64L1229.15 976.92M1406.1 937.8L1225.3 937.8M1406.48 933.96L1229.15 898.68M1407.6 930.26L1240.56 861.07M1409.42 926.86L1259.09 826.41M1411.87 923.87L1284.03 796.03M1414.86 921.42L1314.41 771.09M1418.26 919.6L1349.07 752.56M1421.96 918.48L1386.68 741.15" stroke="#bcbcbc" stroke-width="1.6" fill="none"/>
<circle cx="1425.8" cy="937.8" r="200.5" fill="none" stroke="#b2b2b2" stroke-width="1.55" stroke-dasharray="10.5 3.8"/>
<circle cx="1425.8" cy="937.8" r="19.7" fill="none" stroke="#b2b2b2" stroke-width="1.55" stroke-dasharray="10.5 3.8"/>
<circle cx="1425.8" cy="937.8" r="110.2" fill="none" stroke="#5f8a8b" stroke-width="1.5" stroke-dasharray="10.5 3.8" stroke-dashoffset="-6.6"/>
<polygon points="1427.91,837.39 1445.99,844.78 1477.06,818.8 1506.85,819.06 1524.68,840.19 1444.72,925.76 1538.94,890.87 1547.59,913.53 1493.35,937.72 1520.35,955.55 1533.59,981.27 1508.63,990.94 1515.25,1024.42 1484.44,1021.88 1471.71,1043.27 1448.79,1043.27 1427.91,1047.34 1399.9,1078.41 1379.78,1053.45 1365.52,1030.79 1353.81,1011.18 1355.84,985.46 1284.29,996.92 1304.41,961.66 1354.32,937.72 1307.21,913.02 1325.29,894.69 1359.41,891.38 1352.28,861.33 1352.53,823.9 1386.66,837.9 1403.97,816.26" fill="none" stroke="#b8262a" stroke-width="2.6" stroke-linejoin="round"/>
<circle cx="1427.91" cy="837.39" r="6.4" fill="#b8262a"/>
<circle cx="1445.99" cy="844.78" r="6.4" fill="#b8262a"/>
<circle cx="1477.06" cy="818.8" r="6.4" fill="#b8262a"/>
<circle cx="1506.85" cy="819.06" r="6.4" fill="#b8262a"/>
<circle cx="1524.68" cy="840.19" r="6.4" fill="#b8262a"/>
<circle cx="1444.72" cy="925.76" r="6.4" fill="#b8262a"/>
<circle cx="1538.94" cy="890.87" r="6.4" fill="#b8262a"/>
<circle cx="1547.59" cy="913.53" r="6.4" fill="#b8262a"/>
<circle cx="1493.35" cy="937.72" r="6.4" fill="#b8262a"/>
<circle cx="1520.35" cy="955.55" r="6.4" fill="#b8262a"/>
<circle cx="1533.59" cy="981.27" r="6.4" fill="#b8262a"/>
<circle cx="1508.63" cy="990.94" r="6.4" fill="#b8262a"/>
<circle cx="1515.25" cy="1024.42" r="6.4" fill="#b8262a"/>
<circle cx="1484.44" cy="1021.88" r="6.4" fill="#b8262a"/>
<circle cx="1471.71" cy="1043.27" r="6.4" fill="#b8262a"/>
<circle cx="1448.79" cy="1043.27" r="6.4" fill="#b8262a"/>
<circle cx="1427.91" cy="1047.34" r="6.4" fill="#b8262a"/>
<circle cx="1399.9" cy="1078.41" r="6.4" fill="#b8262a"/>
<circle cx="1379.78" cy="1053.45" r="6.4" fill="#b8262a"/>
<circle cx="1365.52" cy="1030.79" r="6.4" fill="#b8262a"/>
<circle cx="1353.81" cy="1011.18" r="6.4" fill="#b8262a"/>
<circle cx="1355.84" cy="985.46" r="6.4" fill="#b8262a"/>
<circle cx="1284.29" cy="996.92" r="6.4" fill="#b8262a"/>
<circle cx="1304.41" cy="961.66" r="6.4" fill="#b8262a"/>
<circle cx="1354.32" cy="937.72" r="6.4" fill="#b8262a"/>
<circle cx="1307.21" cy="913.02" r="6.4" fill="#b8262a"/>
<circle cx="1325.29" cy="894.69" r="6.4" fill="#b8262a"/>
<circle cx="1359.41" cy="891.38" r="6.4" fill="#b8262a"/>
<circle cx="1352.28" cy="861.33" r="6.4" fill="#b8262a"/>
<circle cx="1352.53" cy="823.9" r="6.4" fill="#b8262a"/>
<circle cx="1386.66" cy="837.9" r="6.4" fill="#b8262a"/>
<circle cx="1403.97" cy="816.26" r="6.4" fill="#b8262a"/>
<g transform="scale(1 1.045)" font-size="14" fill="#000" text-anchor="middle">
<text x="1382.5" y="712.63">0.62</text>
<text x="1399.3" y="798.56">0</text>
<text x="1375.4" y="885.36">−0.62</text>
</g>
<g transform="scale(1 1.045)" font-size="14.1">
<text x="1388.89" y="681.44" fill="#5aa9e6">BLCA,P=0.17</text>
<text x="1470.85" y="685.68" fill="#5aa9e6">BRCA,P=3e−04</text>
<text x="1514.16" y="698.25" fill="#b5202e">CESC,P=0.033</text>
<text x="1554.08" y="718.66" fill="#000000">CHOL,P=0.2</text>
<text x="1589.07" y="746.12" fill="#b5202e">COAD,P=0.00013</text>
<text x="1617.79" y="779.59" fill="#5aa9e6">DLBC,P=2.2e−06</text>
<text x="1639.12" y="817.78" fill="#000000">ESCA,P=0.39</text>
<text x="1652.26" y="859.21" fill="#000000">GBM,P=0.32</text>
<text x="1656.7" y="902.3" fill="#5aa9e6">HNSC,P=9.2e−13</text>
<text x="1652.26" y="945.38" fill="#000000">KICH,P=0.38</text>
<text x="1639.12" y="986.82" fill="#000000">KIRC,P=0.6</text>
<text x="1617.79" y="1025" fill="#000000">KIRP,P=0.11</text>
<text x="1589.07" y="1058.47" fill="#000000">LAML,P=0.34</text>
<text x="1554.08" y="1085.94" fill="#000000">LGG,P=0.17</text>
<text x="1514.16" y="1106.35" fill="#000000">LIHC,P=0.56</text>
<text x="1470.85" y="1118.91" fill="#000000">LUAD,P=0.75</text>
<text x="1388.56" y="1123.16" fill="#000000">LUSC,P=0.99</text>
<text x="1296.16" y="1118.91" fill="#b5202e">MESO,P=0.035</text>
<text x="1272.15" y="1106.35" fill="#000000">OV,P=0.068</text>
<text x="1223.26" y="1085.94" fill="#000000">PAAD,P=0.82</text>
<text x="1186.03" y="1058.47" fill="#000000">PCPG,P=0.62</text>
<text x="1137.75" y="1025" fill="#5aa9e6">PRAD,P=0.00029</text>
<text x="1116.08" y="986.82" fill="#b5202e">READ,P=7.3e−05</text>
<text x="1116.76" y="945.38" fill="#000000">SARC,P=0.081</text>
<text x="1097.16" y="902.3" fill="#5aa9e6">SKCM,P=3.5e−08</text>
<text x="1119.02" y="859.21" fill="#000000">STAD,P=0.078</text>
<text x="1138.68" y="817.78" fill="#000000">TGCT,P=0.95</text>
<text x="1138.1" y="779.59" fill="#5aa9e6">THCA,P=1.9e−05</text>
<text x="1186.04" y="746.12" fill="#000000">THYM,P=0.82</text>
<text x="1200.45" y="718.66" fill="#b5202e">UCEC,P=2.5e−05</text>
<text x="1269.7" y="698.25" fill="#000000">UCS,P=0.91</text>
<text x="1311.67" y="685.68" fill="#000000">UVM,P=0.41</text>
</g>
</g>
</svg>
</body></html>
